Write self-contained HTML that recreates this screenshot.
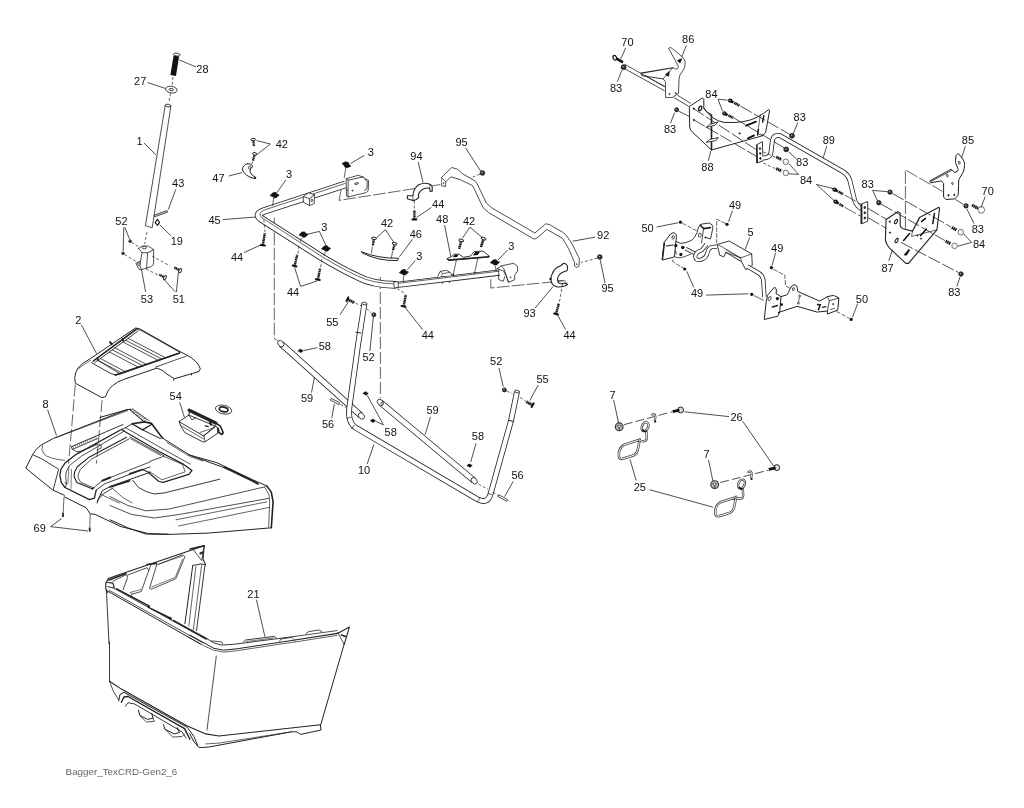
<!DOCTYPE html>
<html><head><meta charset="utf-8"><title>Bagger</title>
<style>
html,body{margin:0;padding:0;background:#fff;}
svg{display:block;}
text{will-change:transform;}
text{font-family:"Liberation Sans",sans-serif;fill:#111;}
</style></head><body>
<svg width="1024" height="808" viewBox="0 0 1024 808">
<rect width="1024" height="808" fill="#fff"/>
<line x1="176.3" y1="56" x2="173.2" y2="75.5" stroke="#111" stroke-width="5.6"/>
<ellipse cx="176.8" cy="54.6" rx="3.4" ry="1.4" transform="rotate(8 176.8 54.6)" fill="#fff" stroke="#222" stroke-width="0.8"/>
<line x1="173.0" y1="77.0" x2="172.0" y2="86.0" stroke="#222" stroke-width="0.7" stroke-dasharray="3 2"/>
<ellipse cx="171.3" cy="89.6" rx="5.8" ry="3.3" transform="rotate(8 171.3 89.6)" fill="#fff" stroke="#222" stroke-width="0.8"/>
<ellipse cx="171.3" cy="89.6" rx="2.2" ry="1.1" transform="rotate(8 171.3 89.6)" fill="#fff" stroke="#222" stroke-width="0.8"/>
<line x1="170.5" y1="93.0" x2="169.0" y2="102.0" stroke="#222" stroke-width="0.7" stroke-dasharray="3 2"/>
<path d="M165.2,105.6 L145.4,225.6 L152.2,227.8 L170.9,106.0 Z" fill="#fff" stroke="#222" stroke-width="0.8" stroke-linejoin="round" stroke-linecap="round"/>
<ellipse cx="168.0" cy="105.6" rx="2.9" ry="1.3" transform="rotate(8 168.0 105.6)" fill="#fff" stroke="#222" stroke-width="0.8"/>
<line x1="147.0" y1="232.0" x2="144.6" y2="244.0" stroke="#222" stroke-width="0.7" stroke-dasharray="3 2"/>
<text x="202.4" y="73.1" font-size="11" text-anchor="middle">28</text>
<line x1="179.5" y1="60.0" x2="196.0" y2="67.0" stroke="#222" stroke-width="0.8"/>
<text x="140.2" y="85.0" font-size="11" text-anchor="middle">27</text>
<line x1="147.5" y1="82.5" x2="165.5" y2="88.5" stroke="#222" stroke-width="0.8"/>
<text x="139.6" y="144.6" font-size="11" text-anchor="middle">1</text>
<line x1="144.0" y1="143.0" x2="155.8" y2="154.8" stroke="#222" stroke-width="0.8"/>
<text x="178.2" y="187.4" font-size="11" text-anchor="middle">43</text>
<line x1="175.8" y1="189.3" x2="168.3" y2="209.5" stroke="#222" stroke-width="0.8"/>
<path d="M154.5,215.0 L167.0,210.6 L167.6,212.2 L155.0,216.6 Z" fill="#ddd" stroke="#222" stroke-width="0.8" stroke-linejoin="round" stroke-linecap="round"/>
<path d="M157.4,219.4 L159.6,222.4 L157.4,225.4 L155.2,222.4 Z" fill="#fff" stroke="#111" stroke-width="1.1"/>
<text x="176.8" y="244.8" font-size="11" text-anchor="middle">19</text>
<line x1="159.6" y1="224.6" x2="171.3" y2="236.2" stroke="#222" stroke-width="0.8"/>
<text x="121.4" y="225.4" font-size="11" text-anchor="middle">52</text>
<line x1="124.8" y1="227.3" x2="129.7" y2="239.6" stroke="#222" stroke-width="0.8"/>
<line x1="123.8" y1="227.3" x2="123.2" y2="251.0" stroke="#222" stroke-width="0.8"/>
<circle cx="130.1" cy="241.2" r="1.3" fill="#333" stroke="#111" stroke-width="0.8"/>
<circle cx="129.7" cy="240.8" r="0.5" fill="#999"/>
<circle cx="123.0" cy="253.3" r="1.3" fill="#333" stroke="#111" stroke-width="0.8"/>
<circle cx="122.6" cy="252.9" r="0.5" fill="#999"/>
<line x1="131.5" y1="242.2" x2="139.0" y2="247.0" stroke="#222" stroke-width="0.7" stroke-dasharray="3 2"/>
<line x1="124.5" y1="254.5" x2="137.0" y2="262.0" stroke="#222" stroke-width="0.7" stroke-dasharray="3 2"/>
<path d="M138.6,248.5 L142.2,246.0 L148.2,246.0 L153.6,249.6 L153.6,264.5 L150.8,266.8 L141.6,269.6 L139.8,266.0 L142.0,252.6 L138.6,248.5 Z" fill="#fff" stroke="#222" stroke-width="0.8" stroke-linejoin="round" stroke-linecap="round"/>
<path d="M142.0,252.6 L147.6,252.8 L153.6,249.6" fill="none" stroke="#222" stroke-width="0.8" stroke-linejoin="round" stroke-linecap="round"/>
<path d="M147.6,252.8 L146.6,268.0" fill="none" stroke="#222" stroke-width="0.8" stroke-linejoin="round" stroke-linecap="round"/>
<ellipse cx="144.4" cy="247.6" rx="2.2" ry="1.2" transform="rotate(0 144.4 247.6)" fill="#fff" stroke="#222" stroke-width="0.8"/>
<path d="M140.5,261.0 L135.8,263.4 L139.5,269.8 L141.6,269.6" fill="none" stroke="#222" stroke-width="0.8" stroke-linejoin="round" stroke-linecap="round"/>
<ellipse cx="138.8" cy="264.0" rx="1.0" ry="1.6" transform="rotate(-20 138.8 264.0)" fill="#fff" stroke="#222" stroke-width="0.8"/>
<line x1="152.0" y1="256.0" x2="170.0" y2="266.0" stroke="#222" stroke-width="0.7" stroke-dasharray="3 2"/>
<line x1="146.0" y1="269.0" x2="158.0" y2="275.0" stroke="#222" stroke-width="0.7" stroke-dasharray="3 2"/>
<line x1="180.2" y1="270.6" x2="174.2" y2="267.4" stroke="#1a1a1a" stroke-width="2.4" stroke-dasharray="1.5 0.35"/>
<ellipse cx="180.2" cy="270.6" rx="2.3" ry="1.2" transform="rotate(-62 180.2 270.6)" fill="#fff" stroke="#111" stroke-width="0.9"/>
<line x1="165.0" y1="277.6" x2="159.2" y2="274.6" stroke="#1a1a1a" stroke-width="2.4" stroke-dasharray="1.5 0.35"/>
<ellipse cx="165.0" cy="277.6" rx="2.3" ry="1.2" transform="rotate(-63 165.0 277.6)" fill="#fff" stroke="#111" stroke-width="0.9"/>
<text x="146.9" y="302.6" font-size="11" text-anchor="middle">53</text>
<line x1="141.6" y1="270.0" x2="145.6" y2="292.0" stroke="#222" stroke-width="0.8"/>
<text x="178.8" y="302.6" font-size="11" text-anchor="middle">51</text>
<line x1="176.4" y1="292.0" x2="178.4" y2="272.5" stroke="#222" stroke-width="0.8"/>
<line x1="175.4" y1="292.0" x2="164.0" y2="279.5" stroke="#222" stroke-width="0.8"/>
<path d="M274.3,218.0 L274.3,338.5 L277.5,340.5" fill="none" stroke="#222" stroke-width="0.7" stroke-linejoin="round" stroke-linecap="round" stroke-dasharray="12 3"/>
<line x1="380.3" y1="277.0" x2="380.4" y2="398.0" stroke="#222" stroke-width="0.7" stroke-dasharray="12 3"/>
<path d="M341.0,190.5 L339.0,200.4 L440.0,184.6" fill="none" stroke="#222" stroke-width="0.7" stroke-linejoin="round" stroke-linecap="round" stroke-dasharray="12 3"/>
<path d="M490.8,279.5 L490.8,288.0 L563.0,280.9" fill="none" stroke="#222" stroke-width="0.7" stroke-linejoin="round" stroke-linecap="round" stroke-dasharray="12 3"/>
<path d="M345.5,184.4 L264,211.0 Q254.5,214.5 261.5,219 L322,257.5 Q345,271 358,276.8 Q372,284.4 396,284.9" fill="none" stroke="#222" stroke-width="7.6" stroke-linejoin="round" stroke-linecap="butt"/>
<path d="M345.5,184.4 L264,211.0 Q254.5,214.5 261.5,219 L322,257.5 Q345,271 358,276.8 Q372,284.4 396,284.9" fill="none" stroke="#fff" stroke-width="6.0" stroke-linejoin="round" stroke-linecap="square"/>
<path d="M345.2,183.4 L264.3,210.0 Q256.8,213.2 262.0,217.8" fill="none" stroke="#222" stroke-width="0.7" stroke-linejoin="round" stroke-linecap="round"/>
<path d="M262.0,217.8 L322.2,256.8 Q345,270.4 358.2,276.2 Q372,283.4 396,284.0" fill="none" stroke="#222" stroke-width="0.7" stroke-linejoin="round" stroke-linecap="round"/>
<path d="M396.0,285.0 L499.5,272.6" fill="none" stroke="#222" stroke-width="6.2" stroke-linejoin="round" stroke-linecap="butt"/>
<path d="M396.0,285.0 L499.5,272.6" fill="none" stroke="#fff" stroke-width="4.6" stroke-linejoin="round" stroke-linecap="square"/>
<line x1="396.0" y1="283.6" x2="499.0" y2="271.2" stroke="#222" stroke-width="0.7"/>
<path d="M394.2,282.0 L398.0,281.6 L398.4,287.4 L394.6,287.8 Z" fill="#fff" stroke="#222" stroke-width="0.8" stroke-linejoin="round" stroke-linecap="round"/>
<path d="M303.5,196.5 L308.5,192.8 L314.5,194.8 L314.2,203.6 L309.6,205.6 L303.8,202.6 Z" fill="#fff" stroke="#222" stroke-width="0.8" stroke-linejoin="round" stroke-linecap="round"/>
<path d="M303.5,196.5 L309.4,198.6 L314.5,194.8" fill="none" stroke="#222" stroke-width="0.8" stroke-linejoin="round" stroke-linecap="round"/>
<line x1="309.4" y1="198.6" x2="309.6" y2="205.6" stroke="#222" stroke-width="0.8"/>
<ellipse cx="311.8" cy="200.4" rx="0.9" ry="1.3" transform="rotate(0 311.8 200.4)" fill="#fff" stroke="#222" stroke-width="0.8"/>
<path d="M346.5,178.6 L358.5,175.2 L363.2,177.4 L368.6,180.6 L368.2,190.6 L366.0,192.6 L348.0,197.0 L346.8,196.2 Z" fill="#fff" stroke="#222" stroke-width="0.8" stroke-linejoin="round" stroke-linecap="round"/>
<path d="M346.5,178.6 L348.2,180.2 L348.0,197.0" fill="none" stroke="#222" stroke-width="0.8" stroke-linejoin="round" stroke-linecap="round"/>
<path d="M348.2,180.2 L363.4,176.8" fill="none" stroke="#222" stroke-width="0.8" stroke-linejoin="round" stroke-linecap="round"/>
<path d="M364.6,179.2 L367.2,181.2 L367.0,188.6 L364.4,190.4" fill="none" stroke="#222" stroke-width="0.8" stroke-linejoin="round" stroke-linecap="round"/>
<ellipse cx="356.5" cy="183.6" rx="2.0" ry="0.8" transform="rotate(-15 356.5 183.6)" fill="#fff" stroke="#222" stroke-width="0.8"/>
<ellipse cx="352.6" cy="190.6" rx="0.6" ry="0.6" transform="rotate(0 352.6 190.6)" fill="#fff" stroke="#222" stroke-width="0.8"/>
<line x1="348.0" y1="190.0" x2="346.2" y2="190.4" stroke="#222" stroke-width="0.8"/>
<path d="M437.7,276.2 L440.3,271.3 L446.6,270.3 L450.0,272.4 L452.0,275.2" fill="#fff" stroke="#222" stroke-width="0.8" stroke-linejoin="round" stroke-linecap="round"/>
<path d="M440.3,271.3 L442.6,273.6 L450.0,272.4" fill="none" stroke="#222" stroke-width="0.7" stroke-linejoin="round" stroke-linecap="round"/>
<path d="M442.6,273.6 L441.4,276.6" fill="none" stroke="#222" stroke-width="0.6" stroke-linejoin="round" stroke-linecap="round"/>
<line x1="442.5" y1="282.2" x2="442.5" y2="283.6" stroke="#222" stroke-width="1.2"/>
<line x1="449.5" y1="281.4" x2="449.5" y2="282.8" stroke="#222" stroke-width="1.2"/>
<path d="M497.2,268.7 L501.2,265.9 L513.6,263.3 L517.4,266.3 L517.6,271.1 L514.8,274.7 L514.6,279.7 L508.6,282.3 L506.2,276.5 L503.6,270.9 L497.2,268.7 Z" fill="#fff" stroke="#222" stroke-width="0.8" stroke-linejoin="round" stroke-linecap="round"/>
<path d="M501.2,265.9 L504.0,268.9 L508.6,282.3" fill="none" stroke="#222" stroke-width="0.8" stroke-linejoin="round" stroke-linecap="round"/>
<path d="M498.8,270.5 L498.6,279.5 L503.4,281.3 L504.6,276.9" fill="none" stroke="#222" stroke-width="0.8" stroke-linejoin="round" stroke-linecap="round"/>
<ellipse cx="510.6" cy="277.3" rx="0.5" ry="0.5" transform="rotate(0 510.6 277.3)" fill="#fff" stroke="#222" stroke-width="0.8"/>
<path d="M412.9,195.7 Q413.2,190.8 414.9,188.8 Q416.6,186.0 418.8,184.8 Q422.0,183.2 425.7,183.3 Q428.8,183.4 430.7,184.8 Q432.0,185.6 432.2,186.8 L432.2,191.2 L430.2,191.4 L429.7,188.3 Q426.6,187.6 423.8,188.8 Q420.8,190.2 419.3,192.7 Q418.4,194.2 418.3,195.7 L419.0,197.4 L415.8,199.7 L412.9,200.6 L407.4,198.7 L407.4,195.7 Z" fill="#fff" stroke="#222" stroke-width="1.1" stroke-linejoin="round" stroke-linecap="round"/>
<path d="M412.9,195.7 L412.9,200.6" fill="none" stroke="#222" stroke-width="0.7" stroke-linejoin="round" stroke-linecap="round"/>
<path d="M429.7,188.3 L430.0,184.6" fill="none" stroke="#222" stroke-width="0.6" stroke-linejoin="round" stroke-linecap="round"/>
<text x="416.4" y="160.0" font-size="11" text-anchor="middle">94</text>
<line x1="418.2" y1="162.0" x2="423.0" y2="182.4" stroke="#222" stroke-width="0.8"/>
<line x1="414.4" y1="200.5" x2="414.4" y2="209.0" stroke="#222" stroke-width="0.7" stroke-dasharray="3 2"/>
<line x1="414.4" y1="219.4" x2="414.4" y2="210.2" stroke="#1a1a1a" stroke-width="2.4" stroke-dasharray="1.5 0.35"/>
<line x1="412.4" y1="219.4" x2="416.4" y2="219.4" stroke="#111" stroke-width="2.0" stroke-linecap="round"/>
<text x="438.2" y="208.2" font-size="11" text-anchor="middle">44</text>
<line x1="431.5" y1="207.4" x2="416.4" y2="217.6" stroke="#222" stroke-width="0.8"/>
<path d="M563.7,263.3 L560.7,265.7 Q557.6,266.8 555.7,268.7 Q553.4,270.8 552.3,273.7 Q550.6,276.8 550.8,279.6 Q551.2,282.6 552.8,284.6 Q554.8,286.6 557.7,287.0 Q561.4,287.2 564.7,286.0 L567.6,284.6 L564.7,283.1 Q561.6,284.2 559.7,283.6 Q557.6,282.4 557.7,280.6 Q557.4,278.4 558.2,276.6 Q559.4,274.0 561.7,272.7 Q564.4,271.2 567.1,270.7 L567.6,266.2 L566.0,264.0 Z" fill="#fff" stroke="#222" stroke-width="1.1" stroke-linejoin="round" stroke-linecap="round"/>
<path d="M557.7,280.6 L564.6,280.4 L567.6,284.6" fill="none" stroke="#222" stroke-width="0.6" stroke-linejoin="round" stroke-linecap="round"/>
<circle cx="550.5" cy="279.0" r="1.2" fill="#111"/>
<text x="529.6" y="317.3" font-size="11" text-anchor="middle">93</text>
<line x1="535.2" y1="308.0" x2="553.0" y2="286.6" stroke="#222" stroke-width="0.8"/>
<line x1="562.6" y1="284.0" x2="559.4" y2="302.0" stroke="#222" stroke-width="0.7" stroke-dasharray="3 2"/>
<line x1="556.0" y1="314.0" x2="558.8" y2="303.6" stroke="#1a1a1a" stroke-width="2.4" stroke-dasharray="1.5 0.35"/>
<line x1="554.1" y1="313.5" x2="557.9" y2="314.5" stroke="#111" stroke-width="2.0" stroke-linecap="round"/>
<text x="569.5" y="338.6" font-size="11" text-anchor="middle">44</text>
<line x1="557.6" y1="315.0" x2="565.6" y2="329.6" stroke="#222" stroke-width="0.8"/>
<line x1="397.0" y1="288.6" x2="405.2" y2="293.6" stroke="#222" stroke-width="0.7" stroke-dasharray="3 2"/>
<line x1="403.6" y1="306.4" x2="405.8" y2="294.8" stroke="#1a1a1a" stroke-width="2.4" stroke-dasharray="1.5 0.35"/>
<line x1="401.6" y1="306.0" x2="405.6" y2="306.8" stroke="#111" stroke-width="2.0" stroke-linecap="round"/>
<text x="427.8" y="338.6" font-size="11" text-anchor="middle">44</text>
<line x1="405.0" y1="307.4" x2="422.6" y2="329.6" stroke="#222" stroke-width="0.8"/>
<line x1="263.8" y1="219.6" x2="265.0" y2="232.0" stroke="#222" stroke-width="0.7" stroke-dasharray="3 2"/>
<line x1="262.8" y1="245.2" x2="264.8" y2="233.3" stroke="#1a1a1a" stroke-width="2.4" stroke-dasharray="1.5 0.35"/>
<line x1="260.8" y1="244.9" x2="264.8" y2="245.5" stroke="#111" stroke-width="2.0" stroke-linecap="round"/>
<text x="237.0" y="260.6" font-size="11" text-anchor="middle">44</text>
<line x1="244.0" y1="252.6" x2="260.6" y2="245.0" stroke="#222" stroke-width="0.8"/>
<text x="214.5" y="224.4" font-size="11" text-anchor="middle">45</text>
<line x1="222.8" y1="219.6" x2="255.6" y2="217.0" stroke="#222" stroke-width="0.8"/>
<g transform="translate(274.7 195.2) rotate(0) scale(1)"><path d="M-4.6,0.4 L-1.8,-2.5 L1.2,-2.7 L1.8,-1.4 L4.5,-0.2 L1.6,2.5 L-0.8,2.7 L-1.6,1.6 Z" fill="#111" stroke="#111" stroke-width="0.7" stroke-linejoin="round"/></g>
<text x="289.1" y="178.3" font-size="11" text-anchor="middle">3</text>
<line x1="285.8" y1="180.0" x2="276.6" y2="193.0" stroke="#222" stroke-width="0.8"/>
<line x1="273.6" y1="198.0" x2="272.6" y2="206.0" stroke="#222" stroke-width="0.7"/>
<g transform="translate(346.5 164.8) rotate(20) scale(1)"><path d="M-4.6,0.4 L-1.8,-2.5 L1.2,-2.7 L1.8,-1.4 L4.5,-0.2 L1.6,2.5 L-0.8,2.7 L-1.6,1.6 Z" fill="#111" stroke="#111" stroke-width="0.7" stroke-linejoin="round"/></g>
<text x="370.7" y="155.7" font-size="11" text-anchor="middle">3</text>
<line x1="364.5" y1="155.2" x2="350.5" y2="163.6" stroke="#222" stroke-width="0.8"/>
<line x1="345.8" y1="168.0" x2="344.2" y2="178.0" stroke="#222" stroke-width="0.7"/>
<g transform="translate(303.6 234.6) rotate(0) scale(1)"><path d="M-4.6,0.4 L-1.8,-2.5 L1.2,-2.7 L1.8,-1.4 L4.5,-0.2 L1.6,2.5 L-0.8,2.7 L-1.6,1.6 Z" fill="#111" stroke="#111" stroke-width="0.7" stroke-linejoin="round"/></g>
<g transform="translate(326.1 248.5) rotate(0) scale(1)"><path d="M-4.6,0.4 L-1.8,-2.5 L1.2,-2.7 L1.8,-1.4 L4.5,-0.2 L1.6,2.5 L-0.8,2.7 L-1.6,1.6 Z" fill="#111" stroke="#111" stroke-width="0.7" stroke-linejoin="round"/></g>
<text x="324.2" y="231.0" font-size="11" text-anchor="middle">3</text>
<path d="M307.6,234.2 L319.4,231.4 L326.0,245.6" fill="none" stroke="#222" stroke-width="0.8" stroke-linejoin="round" stroke-linecap="round"/>
<line x1="301.4" y1="238.0" x2="300.4" y2="241.6" stroke="#222" stroke-width="0.7"/>
<line x1="325.0" y1="252.2" x2="324.4" y2="256.0" stroke="#222" stroke-width="0.7"/>
<line x1="294.6" y1="266.0" x2="297.2" y2="254.8" stroke="#1a1a1a" stroke-width="2.4" stroke-dasharray="1.5 0.35"/>
<line x1="292.7" y1="265.5" x2="296.5" y2="266.5" stroke="#111" stroke-width="2.0" stroke-linecap="round"/>
<line x1="317.8" y1="279.6" x2="320.2" y2="268.4" stroke="#1a1a1a" stroke-width="2.4" stroke-dasharray="1.5 0.35"/>
<line x1="315.8" y1="279.2" x2="319.8" y2="280.0" stroke="#111" stroke-width="2.0" stroke-linecap="round"/>
<line x1="298.0" y1="253.6" x2="298.8" y2="244.8" stroke="#222" stroke-width="0.7" stroke-dasharray="3 2"/>
<line x1="320.6" y1="267.2" x2="322.0" y2="258.6" stroke="#222" stroke-width="0.7" stroke-dasharray="3 2"/>
<text x="293.0" y="296.3" font-size="11" text-anchor="middle">44</text>
<line x1="294.6" y1="267.5" x2="300.6" y2="286.4" stroke="#222" stroke-width="0.8"/>
<line x1="300.6" y1="286.4" x2="317.0" y2="281.0" stroke="#222" stroke-width="0.8"/>
<g transform="translate(404.0 272.3) rotate(0) scale(1)"><path d="M-4.6,0.4 L-1.8,-2.5 L1.2,-2.7 L1.8,-1.4 L4.5,-0.2 L1.6,2.5 L-0.8,2.7 L-1.6,1.6 Z" fill="#111" stroke="#111" stroke-width="0.7" stroke-linejoin="round"/></g>
<text x="419.2" y="260.4" font-size="11" text-anchor="middle">3</text>
<line x1="415.4" y1="260.4" x2="407.4" y2="269.6" stroke="#222" stroke-width="0.8"/>
<line x1="403.6" y1="276.0" x2="403.4" y2="281.6" stroke="#222" stroke-width="0.7"/>
<g transform="translate(495.0 262.4) rotate(0) scale(1)"><path d="M-4.6,0.4 L-1.8,-2.5 L1.2,-2.7 L1.8,-1.4 L4.5,-0.2 L1.6,2.5 L-0.8,2.7 L-1.6,1.6 Z" fill="#111" stroke="#111" stroke-width="0.7" stroke-linejoin="round"/></g>
<text x="511.4" y="249.8" font-size="11" text-anchor="middle">3</text>
<line x1="507.6" y1="250.0" x2="497.8" y2="260.2" stroke="#222" stroke-width="0.8"/>
<line x1="495.2" y1="266.0" x2="496.2" y2="271.4" stroke="#222" stroke-width="0.7"/>
<text x="281.8" y="148.2" font-size="11" text-anchor="middle">42</text>
<line x1="270.4" y1="144.0" x2="256.6" y2="140.6" stroke="#222" stroke-width="0.8"/>
<line x1="270.4" y1="144.0" x2="257.2" y2="154.4" stroke="#222" stroke-width="0.8"/>
<line x1="253.2" y1="139.6" x2="254.0" y2="146.2" stroke="#1a1a1a" stroke-width="2.3" stroke-dasharray="1.5 0.35"/>
<ellipse cx="253.2" cy="139.6" rx="2.3" ry="1.2" transform="rotate(173 253.2 139.6)" fill="#fff" stroke="#111" stroke-width="0.9"/>
<line x1="254.8" y1="153.8" x2="253.0" y2="160.6" stroke="#1a1a1a" stroke-width="2.3" stroke-dasharray="1.5 0.35"/>
<ellipse cx="254.8" cy="153.8" rx="2.3" ry="1.2" transform="rotate(-165 254.8 153.8)" fill="#fff" stroke="#111" stroke-width="0.9"/>
<line x1="252.6" y1="161.6" x2="250.2" y2="169.0" stroke="#222" stroke-width="0.7" stroke-dasharray="3 2"/>
<path d="M247.6,163.6 Q242.2,165.4 242.4,169.8 Q244.6,176.2 254.6,178.6 L255.6,177.2 Q251.6,176.0 250.0,171.8 Q249.4,168.6 253.0,166.4 Q251.0,163.2 247.6,163.6 Z" fill="#fff" stroke="#222" stroke-width="1.0" stroke-linejoin="round" stroke-linecap="round"/>
<ellipse cx="249.8" cy="167.6" rx="1.2" ry="1.6" transform="rotate(20 249.8 167.6)" fill="#fff" stroke="#222" stroke-width="0.8"/>
<circle cx="255.2" cy="178.0" r="1.1" fill="#111"/>
<text x="218.4" y="182.2" font-size="11" text-anchor="middle">47</text>
<line x1="228.8" y1="176.0" x2="242.0" y2="172.6" stroke="#222" stroke-width="0.8"/>
<text x="387.0" y="227.4" font-size="11" text-anchor="middle">42</text>
<line x1="385.4" y1="229.6" x2="376.2" y2="238.2" stroke="#222" stroke-width="0.8"/>
<line x1="385.4" y1="229.6" x2="393.6" y2="242.0" stroke="#222" stroke-width="0.8"/>
<line x1="374.0" y1="238.4" x2="372.8" y2="245.8" stroke="#1a1a1a" stroke-width="2.3" stroke-dasharray="1.5 0.35"/>
<ellipse cx="374.0" cy="238.4" rx="2.5" ry="1.2" transform="rotate(-171 374.0 238.4)" fill="#fff" stroke="#111" stroke-width="0.9"/>
<line x1="394.6" y1="243.6" x2="393.0" y2="250.2" stroke="#1a1a1a" stroke-width="2.3" stroke-dasharray="1.5 0.35"/>
<ellipse cx="394.6" cy="243.6" rx="2.5" ry="1.2" transform="rotate(-166 394.6 243.6)" fill="#fff" stroke="#111" stroke-width="0.9"/>
<line x1="372.4" y1="246.5" x2="371.4" y2="253.4" stroke="#222" stroke-width="0.7"/>
<line x1="392.6" y1="251.0" x2="391.4" y2="258.0" stroke="#222" stroke-width="0.7"/>
<path d="M361.4,251.8 Q378,258.6 398.6,258.2 L397.6,260.6 Q377,261.0 362.6,253.0 Z" fill="#fff" stroke="#222" stroke-width="1.0" stroke-linejoin="round" stroke-linecap="round"/>
<text x="415.8" y="237.5" font-size="11" text-anchor="middle">46</text>
<line x1="412.4" y1="239.4" x2="399.4" y2="256.8" stroke="#222" stroke-width="0.8"/>
<text x="442.2" y="222.6" font-size="11" text-anchor="middle">48</text>
<line x1="444.6" y1="225.0" x2="450.8" y2="256.6" stroke="#222" stroke-width="0.8"/>
<text x="469.1" y="225.0" font-size="11" text-anchor="middle">42</text>
<line x1="470.0" y1="227.2" x2="462.4" y2="238.2" stroke="#222" stroke-width="0.8"/>
<line x1="470.0" y1="227.2" x2="481.6" y2="237.0" stroke="#222" stroke-width="0.8"/>
<line x1="461.3" y1="240.4" x2="459.1" y2="248.9" stroke="#1a1a1a" stroke-width="2.5" stroke-dasharray="1.5 0.35"/>
<ellipse cx="461.3" cy="240.4" rx="2.6" ry="1.2" transform="rotate(-165 461.3 240.4)" fill="#fff" stroke="#111" stroke-width="0.9"/>
<line x1="483.6" y1="238.6" x2="480.9" y2="247.1" stroke="#1a1a1a" stroke-width="2.5" stroke-dasharray="1.5 0.35"/>
<ellipse cx="483.6" cy="238.6" rx="2.6" ry="1.2" transform="rotate(-162 483.6 238.6)" fill="#fff" stroke="#111" stroke-width="0.9"/>
<path d="M447.0,258.7 L451.0,256.9 L454.2,254.2 L459.1,254.2 L463.5,257.3 L470.6,256.0 L474.2,251.5 L483.1,251.1 L489.4,256.2 L489.0,257.0 L449.3,260.5 Z" fill="#fff" stroke="#222" stroke-width="0.9" stroke-linejoin="round" stroke-linecap="round"/>
<line x1="448.0" y1="259.9" x2="489.2" y2="256.8" stroke="#222" stroke-width="1.5"/>
<path d="M452.6,257.2 L455.0,254.6 L458.6,254.8 L457.0,256.9 Z M473.0,255.4 L475.2,252.0 L480.2,251.8 L477.6,254.9 Z" fill="#111"/>
<line x1="456.4" y1="260.0" x2="453.3" y2="274.4" stroke="#222" stroke-width="0.7"/>
<line x1="477.8" y1="258.2" x2="474.7" y2="272.6" stroke="#222" stroke-width="0.7"/>
<circle cx="453.2" cy="274.6" r="0.9" fill="#111"/><circle cx="474.8" cy="272.8" r="0.9" fill="#111"/>
<path d="M441.4,177.6 L451.7,167.5 L457.6,169.2 L461.6,173.2 L475.4,181.2 L477.2,183.8 L486.3,203.0 L492.0,208.0 L534.9,233.0 L545.7,223.8 L549.6,224.6 L562.6,232.2 L566.5,235.6 L571.6,243.0 L579.4,258.6 L579.0,266.2 L576.6,267.4 L574.4,266.0 L574.6,262.6 L568.6,248.6 L562.6,238.4 L546.9,229.4 L536.0,238.8 L533.4,238.8 L488.6,212.6 L483.2,207.8 L472.6,185.6 L459.6,179.4 L450.8,176.8 L445.8,181.8 L445.6,186.6 L441.6,185.6 Z" fill="#fff" stroke="#222" stroke-width="0.8" stroke-linejoin="round" stroke-linecap="round"/>
<path d="M445.8,181.8 L441.4,177.6" fill="none" stroke="#222" stroke-width="0.7" stroke-linejoin="round" stroke-linecap="round"/>
<ellipse cx="576.8" cy="264.2" rx="0.5" ry="0.5" transform="rotate(0 576.8 264.2)" fill="#fff" stroke="#222" stroke-width="0.8"/>
<ellipse cx="443.6" cy="183.2" rx="0.5" ry="0.5" transform="rotate(0 443.6 183.2)" fill="#fff" stroke="#222" stroke-width="0.8"/>
<text x="461.6" y="145.8" font-size="11" text-anchor="middle">95</text>
<line x1="465.5" y1="147.7" x2="480.6" y2="171.0" stroke="#222" stroke-width="0.8"/>
<circle cx="482.4" cy="173.0" r="2.3" fill="#333" stroke="#111" stroke-width="0.8"/>
<circle cx="482.0" cy="172.6" r="0.8" fill="#999"/>
<line x1="480.0" y1="174.2" x2="470.5" y2="178.0" stroke="#222" stroke-width="0.7" stroke-dasharray="3 2"/>
<text x="603.2" y="238.9" font-size="11" text-anchor="middle">92</text>
<line x1="572.5" y1="241.2" x2="595.2" y2="237.2" stroke="#222" stroke-width="0.8"/>
<circle cx="599.8" cy="257.0" r="2.3" fill="#333" stroke="#111" stroke-width="0.8"/>
<circle cx="599.4" cy="256.6" r="0.8" fill="#999"/>
<line x1="597.4" y1="258.0" x2="581.0" y2="262.6" stroke="#222" stroke-width="0.7" stroke-dasharray="3 2"/>
<text x="607.6" y="292.4" font-size="11" text-anchor="middle">95</text>
<line x1="600.2" y1="259.6" x2="605.0" y2="283.0" stroke="#222" stroke-width="0.8"/>
<path d="M280.8,343.6 L361.0,415.6" fill="none" stroke="#222" stroke-width="6.4" stroke-linejoin="round" stroke-linecap="butt"/>
<path d="M280.8,343.6 L361.0,415.6" fill="none" stroke="#fff" stroke-width="4.800000000000001" stroke-linejoin="round" stroke-linecap="square"/>
<ellipse cx="280.8" cy="343.6" rx="2.6" ry="3.6" transform="rotate(-40 280.8 343.6)" fill="#fff" stroke="#222" stroke-width="0.8"/>
<ellipse cx="361.4" cy="416.0" rx="2.6" ry="3.6" transform="rotate(-40 361.4 416.0)" fill="#fff" stroke="#222" stroke-width="0.8"/>
<path d="M364.4,303.6 L358.0,345 L349.3,408 Q347.6,422.0 355.5,427.6 L477,499.0 Q487.2,504.6 490.4,494.6 L511,420.8 L517.0,391.6" fill="none" stroke="#222" stroke-width="5.8" stroke-linejoin="round" stroke-linecap="butt"/>
<path d="M364.4,303.6 L358.0,345 L349.3,408 Q347.6,422.0 355.5,427.6 L477,499.0 Q487.2,504.6 490.4,494.6 L511,420.8 L517.0,391.6" fill="none" stroke="#fff" stroke-width="4.199999999999999" stroke-linejoin="round" stroke-linecap="square"/>
<ellipse cx="364.4" cy="303.5" rx="2.6" ry="1.2" transform="rotate(8 364.4 303.5)" fill="#fff" stroke="#222" stroke-width="0.8"/>
<ellipse cx="517.0" cy="391.5" rx="2.6" ry="1.2" transform="rotate(12 517.0 391.5)" fill="#fff" stroke="#222" stroke-width="0.8"/>
<line x1="355.6" y1="332.2" x2="361.0" y2="333.0" stroke="#222" stroke-width="1.0"/>
<line x1="508.4" y1="420.2" x2="513.6" y2="421.6" stroke="#222" stroke-width="1.0"/>
<line x1="346.6" y1="418.5" x2="351.6" y2="417.0" stroke="#222" stroke-width="0.7"/>
<line x1="351.5" y1="429.0" x2="354.4" y2="425.0" stroke="#222" stroke-width="0.7"/>
<line x1="477.5" y1="501.8" x2="480.0" y2="497.6" stroke="#222" stroke-width="0.7"/>
<line x1="487.6" y1="493.4" x2="492.4" y2="494.8" stroke="#222" stroke-width="0.7"/>
<path d="M380.3,402.4 L474.0,480.6" fill="none" stroke="#222" stroke-width="6.4" stroke-linejoin="round" stroke-linecap="butt"/>
<path d="M380.3,402.4 L474.0,480.6" fill="none" stroke="#fff" stroke-width="4.800000000000001" stroke-linejoin="round" stroke-linecap="square"/>
<ellipse cx="380.3" cy="402.4" rx="2.6" ry="3.6" transform="rotate(-40 380.3 402.4)" fill="#fff" stroke="#222" stroke-width="0.8"/>
<ellipse cx="474.2" cy="480.8" rx="2.6" ry="3.6" transform="rotate(-40 474.2 480.8)" fill="#fff" stroke="#222" stroke-width="0.8"/>
<circle cx="381.6" cy="403.4" r="0.9" fill="none" stroke="#111" stroke-width="0.6"/>
<line x1="347.4" y1="299.2" x2="354.4" y2="302.8" stroke="#1a1a1a" stroke-width="2.8" stroke-dasharray="1.5 0.35"/>
<line x1="348.3" y1="297.4" x2="346.5" y2="301.0" stroke="#111" stroke-width="2.0" stroke-linecap="round"/>
<line x1="355.5" y1="303.2" x2="361.6" y2="306.0" stroke="#222" stroke-width="0.7" stroke-dasharray="3 2"/>
<line x1="366.6" y1="308.6" x2="371.6" y2="313.0" stroke="#222" stroke-width="0.7" stroke-dasharray="3 2"/>
<circle cx="373.9" cy="314.8" r="2.0" fill="#333" stroke="#111" stroke-width="0.8"/>
<circle cx="373.5" cy="314.4" r="0.7" fill="#999"/>
<text x="332.3" y="326.0" font-size="11" text-anchor="middle">55</text>
<line x1="340.0" y1="314.8" x2="348.4" y2="301.8" stroke="#222" stroke-width="0.8"/>
<text x="368.5" y="361.0" font-size="11" text-anchor="middle">52</text>
<line x1="373.3" y1="317.2" x2="369.9" y2="351.0" stroke="#222" stroke-width="0.8"/>
<text x="324.8" y="350.0" font-size="11" text-anchor="middle">58</text>
<line x1="303.6" y1="350.6" x2="317.4" y2="347.6" stroke="#222" stroke-width="0.8"/>
<g transform="translate(300.6 350.8) rotate(0) scale(0.6)"><path d="M-4.6,0.4 L-1.8,-2.5 L1.2,-2.7 L1.8,-1.4 L4.5,-0.2 L1.6,2.5 L-0.8,2.7 L-1.6,1.6 Z" fill="#111" stroke="#111" stroke-width="0.7" stroke-linejoin="round"/></g>
<text x="307.0" y="402.3" font-size="11" text-anchor="middle">59</text>
<line x1="314.5" y1="377.1" x2="311.5" y2="392.6" stroke="#222" stroke-width="0.8"/>
<text x="328.0" y="428.3" font-size="11" text-anchor="middle">56</text>
<line x1="334.3" y1="403.9" x2="331.7" y2="418.4" stroke="#222" stroke-width="0.8"/>
<path d="M331.4,398.6 L339.6,402.6 L339.0,404.6 L330.8,400.4 Z" fill="#fff" stroke="#222" stroke-width="0.8" stroke-linejoin="round" stroke-linecap="round"/>
<line x1="340.5" y1="404.5" x2="346.0" y2="407.5" stroke="#222" stroke-width="0.7" stroke-dasharray="3 2"/>
<g transform="translate(365.6 393.4) rotate(0) scale(0.6)"><path d="M-4.6,0.4 L-1.8,-2.5 L1.2,-2.7 L1.8,-1.4 L4.5,-0.2 L1.6,2.5 L-0.8,2.7 L-1.6,1.6 Z" fill="#111" stroke="#111" stroke-width="0.7" stroke-linejoin="round"/></g>
<g transform="translate(373.0 420.8) rotate(0) scale(0.6)"><path d="M-4.6,0.4 L-1.8,-2.5 L1.2,-2.7 L1.8,-1.4 L4.5,-0.2 L1.6,2.5 L-0.8,2.7 L-1.6,1.6 Z" fill="#111" stroke="#111" stroke-width="0.7" stroke-linejoin="round"/></g>
<text x="390.7" y="436.2" font-size="11" text-anchor="middle">58</text>
<path d="M367.4,395.6 L383.4,424.8 L376.4,421.6" fill="none" stroke="#222" stroke-width="0.8" stroke-linejoin="round" stroke-linecap="round"/>
<text x="432.6" y="414.0" font-size="11" text-anchor="middle">59</text>
<line x1="430.4" y1="417.0" x2="425.2" y2="434.6" stroke="#222" stroke-width="0.8"/>
<text x="364.0" y="473.8" font-size="11" text-anchor="middle">10</text>
<line x1="373.8" y1="444.7" x2="367.2" y2="464.0" stroke="#222" stroke-width="0.8"/>
<text x="496.2" y="364.9" font-size="11" text-anchor="middle">52</text>
<line x1="499.0" y1="368.0" x2="503.2" y2="386.6" stroke="#222" stroke-width="0.8"/>
<circle cx="504.4" cy="389.9" r="2.0" fill="#333" stroke="#111" stroke-width="0.8"/>
<circle cx="504.0" cy="389.5" r="0.7" fill="#999"/>
<line x1="506.8" y1="391.2" x2="512.4" y2="393.6" stroke="#222" stroke-width="0.7" stroke-dasharray="3 2"/>
<line x1="520.2" y1="397.4" x2="526.4" y2="401.6" stroke="#222" stroke-width="0.7" stroke-dasharray="3 2"/>
<line x1="532.6" y1="405.2" x2="526.4" y2="401.8" stroke="#1a1a1a" stroke-width="2.8" stroke-dasharray="1.5 0.35"/>
<line x1="531.6" y1="407.0" x2="533.6" y2="403.4" stroke="#111" stroke-width="2.0" stroke-linecap="round"/>
<text x="542.6" y="383.0" font-size="11" text-anchor="middle">55</text>
<line x1="538.2" y1="385.0" x2="529.8" y2="400.6" stroke="#222" stroke-width="0.8"/>
<text x="477.9" y="440.0" font-size="11" text-anchor="middle">58</text>
<line x1="476.1" y1="443.2" x2="470.7" y2="462.0" stroke="#222" stroke-width="0.8"/>
<g transform="translate(469.6 465.6) rotate(0) scale(0.6)"><path d="M-4.6,0.4 L-1.8,-2.5 L1.2,-2.7 L1.8,-1.4 L4.5,-0.2 L1.6,2.5 L-0.8,2.7 L-1.6,1.6 Z" fill="#111" stroke="#111" stroke-width="0.7" stroke-linejoin="round"/></g>
<text x="517.5" y="479.2" font-size="11" text-anchor="middle">56</text>
<line x1="513.2" y1="481.4" x2="504.6" y2="496.6" stroke="#222" stroke-width="0.8"/>
<path d="M499.2,495.0 L507.6,499.6 L506.8,501.4 L498.4,496.6 Z" fill="#fff" stroke="#222" stroke-width="0.8" stroke-linejoin="round" stroke-linecap="round"/>
<line x1="478.4" y1="484.0" x2="488.0" y2="489.4" stroke="#222" stroke-width="0.7" stroke-dasharray="3 2"/>
<line x1="492.6" y1="492.4" x2="498.6" y2="495.6" stroke="#222" stroke-width="0.7" stroke-dasharray="3 2"/>
<line x1="624.5" y1="64.1" x2="664.6" y2="86.8" stroke="#222" stroke-width="0.8"/>
<line x1="624.5" y1="68.6" x2="664.6" y2="90.8" stroke="#222" stroke-width="0.8"/>
<line x1="677.2" y1="95.0" x2="690.7" y2="103.4" stroke="#222" stroke-width="0.8"/>
<line x1="674.0" y1="97.6" x2="688.8" y2="106.4" stroke="#222" stroke-width="0.8"/>
<line x1="678.5" y1="111.1" x2="689.6" y2="116.6" stroke="#222" stroke-width="0.8"/>
<ellipse cx="614.8" cy="57.8" rx="1.6" ry="2.4" transform="rotate(-25 614.8 57.8)" fill="#fff" stroke="#111" stroke-width="1.2"/>
<line x1="616.6" y1="58.6" x2="623" y2="62.4" stroke="#111" stroke-width="2.4"/>
<circle cx="623.6" cy="67.2" r="2.4" fill="#333" stroke="#111" stroke-width="0.8"/>
<circle cx="623.2" cy="66.8" r="0.8" fill="#999"/>
<text x="627.4" y="46.2" font-size="11" text-anchor="middle">70</text>
<line x1="625.7" y1="48.0" x2="620.6" y2="59.0" stroke="#222" stroke-width="0.8"/>
<text x="616.0" y="91.6" font-size="11" text-anchor="middle">83</text>
<line x1="621.9" y1="70.0" x2="617.4" y2="81.6" stroke="#222" stroke-width="0.8"/>
<path d="M668.9,48.0 Q670.4,46.6 672.4,48.6 L682.4,57.0 Q685.4,59.6 685.2,63.2 Q685.4,67.6 682.4,71.4 Q679.0,75.0 679.0,79.0 L678.5,93.4 L672.1,97.6 L665.6,97.6 L665.4,81.5 L663.1,78.9 L672.7,67.7 L674.6,68.6 Q677.6,70.4 678.4,66.6 L677.2,64.1 Z" fill="#fff" stroke="#222" stroke-width="0.8" stroke-linejoin="round" stroke-linecap="round"/>
<path d="M641.2,73.1 L672.7,67.7" fill="none" stroke="#222" stroke-width="1.1" stroke-linejoin="round" stroke-linecap="round"/>
<path d="M641.2,73.1 L641.8,75.7 L663.1,78.9" fill="none" stroke="#222" stroke-width="0.9" stroke-linejoin="round" stroke-linecap="round"/>
<path d="M645.0,75.6 L665.4,86.6" fill="none" stroke="#222" stroke-width="0.7" stroke-linejoin="round" stroke-linecap="round"/>
<path d="M677.6,60.6 L681.6,58.8 L680.0,62.8 Z M665.6,74.6 L669.2,71.8 L668.6,76.2 Z" fill="#111" stroke="#111" stroke-width="0.9"/>
<ellipse cx="669.5" cy="94.0" rx="0.6" ry="0.6" transform="rotate(0 669.5 94.0)" fill="#111" stroke="#222" stroke-width="0.8"/>
<ellipse cx="675.9" cy="93.3" rx="0.6" ry="0.6" transform="rotate(0 675.9 93.3)" fill="#111" stroke="#222" stroke-width="0.8"/>
<text x="688.2" y="42.6" font-size="11" text-anchor="middle">86</text>
<line x1="686.5" y1="45.2" x2="681.7" y2="57.0" stroke="#222" stroke-width="0.8"/>
<circle cx="676.6" cy="109.8" r="2.0" fill="#333" stroke="#111" stroke-width="0.8"/>
<circle cx="676.2" cy="109.4" r="0.7" fill="#999"/>
<text x="670.0" y="132.5" font-size="11" text-anchor="middle">83</text>
<line x1="674.6" y1="112.6" x2="670.5" y2="123.0" stroke="#222" stroke-width="0.8"/>
<line x1="692.9" y1="108.2" x2="757.5" y2="150.5" stroke="#222" stroke-width="0.8" stroke-dasharray="13 2.5"/>
<line x1="693.5" y1="119.7" x2="757.6" y2="157.0" stroke="#222" stroke-width="0.8" stroke-dasharray="13 2.5"/>
<line x1="740.5" y1="106.0" x2="790.0" y2="134.6" stroke="#222" stroke-width="0.8" stroke-dasharray="13 2.5"/>
<line x1="734.0" y1="118.0" x2="784.5" y2="148.0" stroke="#222" stroke-width="0.8" stroke-dasharray="13 2.5"/>
<path d="M689.7,106.2 L702.5,97.9 L703.8,99.2 L703.8,108.0 Q705.0,112.0 711.5,114.6 L711.5,150 L692.9,132.6 Q689.7,130.0 689.7,127.5 Z" fill="none" stroke="#222" stroke-width="1.0" stroke-linejoin="round" stroke-linecap="round"/>
<line x1="711.5" y1="114.6" x2="711.5" y2="150.0" stroke="#222" stroke-width="1.6"/>
<path d="M703.8,108.0 Q712,120.5 724,122.4 Q745,123.6 757.2,117.2 Q764,113.6 768.8,109.5 L769.6,110.8 L765.6,132.6 L762.4,135.8 L711.5,150" fill="none" stroke="#222" stroke-width="1.0" stroke-linejoin="round" stroke-linecap="round"/>
<path d="M762.4,135.8 L757.6,133.4 L760.4,114.8" fill="none" stroke="#222" stroke-width="0.7" stroke-linejoin="round" stroke-linecap="round"/>
<path d="M706.4,127.4 L709.4,124.4 L718.0,122.0 L715.0,125.2 L706.4,127.4 Z" fill="#fff" stroke="#222" stroke-width="0.9" stroke-linejoin="round" stroke-linecap="round"/>
<path d="M706.6,142.2 L709.6,139.4 L718.4,137.6 L715.6,140.8 L706.6,142.2 Z" fill="#fff" stroke="#222" stroke-width="0.9" stroke-linejoin="round" stroke-linecap="round"/>
<ellipse cx="693.8" cy="108.6" rx="0.7" ry="0.7" transform="rotate(0 693.8 108.6)" fill="#111" stroke="#222" stroke-width="0.8"/>
<ellipse cx="693.8" cy="120.0" rx="0.7" ry="0.7" transform="rotate(0 693.8 120.0)" fill="#111" stroke="#222" stroke-width="0.8"/>
<ellipse cx="700.2" cy="108.4" rx="1.4" ry="2.4" transform="rotate(20 700.2 108.4)" fill="#fff" stroke="#111" stroke-width="1.3"/>
<line x1="746" y1="125.6" x2="756" y2="121.6" stroke="#111" stroke-width="1.8" stroke-linecap="round"/>
<line x1="748" y1="138.4" x2="754" y2="135.4" stroke="#111" stroke-width="1.8" stroke-linecap="round"/>
<line x1="763.8" y1="115.6" x2="762.6" y2="122.0" stroke="#111" stroke-width="1.4" stroke-linecap="round"/>
<line x1="758.4" y1="129.4" x2="757.6" y2="135.0" stroke="#111" stroke-width="1.4" stroke-linecap="round"/>
<ellipse cx="739.6" cy="133.4" rx="0.7" ry="0.7" transform="rotate(0 739.6 133.4)" fill="#111" stroke="#222" stroke-width="0.8"/>
<line x1="730.2" y1="100.6" x2="739.8" y2="105.8" stroke="#111" stroke-width="2.6" stroke-dasharray="3.6 0.9 1.2 0.4 1.2 0.4 1.2 0.4 1.2 0.4"/>
<circle cx="730.2" cy="100.6" r="2.2" fill="#111"/>
<circle cx="729.9000000000001" cy="100.39999999999999" r="0.7" fill="#aaa"/>
<line x1="724.4" y1="113.4" x2="733.4" y2="118.0" stroke="#111" stroke-width="2.6" stroke-dasharray="3.6 0.9 1.2 0.4 1.2 0.4 1.2 0.4 1.2 0.4"/>
<circle cx="724.4" cy="113.4" r="2.2" fill="#111"/>
<circle cx="724.1" cy="113.2" r="0.7" fill="#aaa"/>
<text x="711.4" y="98.0" font-size="11" text-anchor="middle">84</text>
<line x1="718.0" y1="99.2" x2="727.6" y2="100.2" stroke="#222" stroke-width="0.8"/>
<line x1="718.0" y1="99.2" x2="722.5" y2="111.2" stroke="#222" stroke-width="0.8"/>
<text x="707.4" y="170.7" font-size="11" text-anchor="middle">88</text>
<line x1="710.9" y1="150.8" x2="708.3" y2="160.8" stroke="#222" stroke-width="0.8"/>
<circle cx="792.0" cy="135.8" r="2.4" fill="#333" stroke="#111" stroke-width="0.8"/>
<circle cx="791.6" cy="135.4" r="0.8" fill="#999"/>
<text x="799.7" y="120.6" font-size="11" text-anchor="middle">83</text>
<line x1="797.8" y1="122.4" x2="793.3" y2="133.6" stroke="#222" stroke-width="0.8"/>
<circle cx="786.2" cy="149.4" r="2.4" fill="#333" stroke="#111" stroke-width="0.8"/>
<circle cx="785.8" cy="149.0" r="0.8" fill="#999"/>
<text x="802.2" y="165.8" font-size="11" text-anchor="middle">83</text>
<line x1="788.8" y1="151.9" x2="796.5" y2="159.0" stroke="#222" stroke-width="0.8"/>
<path d="M756.6,144.8 L762.4,141.6 L763.0,160.9 L757.2,162.9 Z" fill="#fff" stroke="#222" stroke-width="0.9" stroke-linejoin="round" stroke-linecap="round"/>
<line x1="756.8" y1="144.8" x2="757.2" y2="162.9" stroke="#222" stroke-width="1.6"/>
<ellipse cx="760.0" cy="148.6" rx="0.7" ry="1.0" transform="rotate(0 760.0 148.6)" fill="#111" stroke="#222" stroke-width="0.8"/>
<ellipse cx="760.2" cy="153.4" rx="0.7" ry="1.0" transform="rotate(0 760.2 153.4)" fill="#111" stroke="#222" stroke-width="0.8"/>
<ellipse cx="760.4" cy="158.4" rx="0.7" ry="1.0" transform="rotate(0 760.4 158.4)" fill="#111" stroke="#222" stroke-width="0.8"/>
<path d="M763.6,158.0 Q770.4,157.6 770.9,152.6 L772.4,140.6 Q773.4,134.6 779.6,135.4 L843.0,171.6 Q848.4,175.0 850.0,181.0 L854.6,200.0 Q856.0,205.6 862.4,209.4" fill="none" stroke="#222" stroke-width="4.8" stroke-linejoin="round" stroke-linecap="butt"/>
<path d="M763.6,158.0 Q770.4,157.6 770.9,152.6 L772.4,140.6 Q773.4,134.6 779.6,135.4 L843.0,171.6 Q848.4,175.0 850.0,181.0 L854.6,200.0 Q856.0,205.6 862.4,209.4" fill="none" stroke="#fff" stroke-width="3.1999999999999997" stroke-linejoin="round" stroke-linecap="square"/>
<text x="828.8" y="144.2" font-size="11" text-anchor="middle">89</text>
<line x1="826.8" y1="146.0" x2="823.1" y2="158.2" stroke="#222" stroke-width="0.8"/>
<line x1="763.4" y1="152.0" x2="776.0" y2="157.4" stroke="#222" stroke-width="0.7" stroke-dasharray="3 2"/>
<line x1="763.4" y1="163.0" x2="776.0" y2="169.0" stroke="#222" stroke-width="0.7" stroke-dasharray="3 2"/>
<line x1="776.2" y1="157.0" x2="781.5" y2="159.6" stroke="#111" stroke-width="3.0" stroke-dasharray="1.5 0.4"/>
<circle cx="785.8" cy="161.8" r="2.8" fill="#f4f4f4" stroke="#555" stroke-width="0.8"/>
<line x1="776.2" y1="168.6" x2="781.5" y2="171.0" stroke="#111" stroke-width="3.0" stroke-dasharray="1.5 0.4"/>
<circle cx="785.8" cy="172.9" r="2.8" fill="#f4f4f4" stroke="#555" stroke-width="0.8"/>
<text x="806.0" y="183.6" font-size="11" text-anchor="middle">84</text>
<line x1="798.6" y1="174.4" x2="788.8" y2="163.5" stroke="#222" stroke-width="0.8"/>
<line x1="798.6" y1="174.4" x2="788.8" y2="173.8" stroke="#222" stroke-width="0.8"/>
<path d="M834.0,188.8 L816.4,184.4 L834.8,201.2" fill="none" stroke="#222" stroke-width="0.8" stroke-linejoin="round" stroke-linecap="round"/>
<line x1="834.6" y1="189.6" x2="843.2" y2="194.2" stroke="#111" stroke-width="2.6" stroke-dasharray="3.6 0.9 1.2 0.4 1.2 0.4 1.2 0.4 1.2 0.4"/>
<circle cx="834.6" cy="189.6" r="2.2" fill="#111"/>
<circle cx="834.3000000000001" cy="189.4" r="0.7" fill="#aaa"/>
<line x1="835.6" y1="201.6" x2="843.2" y2="206.4" stroke="#111" stroke-width="2.6" stroke-dasharray="3.6 0.9 1.2 0.4 1.2 0.4 1.2 0.4 1.2 0.4"/>
<circle cx="835.6" cy="201.6" r="2.2" fill="#111"/>
<circle cx="835.3000000000001" cy="201.4" r="0.7" fill="#aaa"/>
<line x1="844.5" y1="195.0" x2="861.5" y2="204.6" stroke="#222" stroke-width="0.7" stroke-dasharray="13 2.5"/>
<line x1="844.5" y1="207.2" x2="861.5" y2="216.6" stroke="#222" stroke-width="0.7" stroke-dasharray="13 2.5"/>
<path d="M861.5,204.0 L867.7,201.5 L867.7,221.3 L861.5,223.8 Z" fill="#fff" stroke="#222" stroke-width="0.9" stroke-linejoin="round" stroke-linecap="round"/>
<line x1="861.6" y1="204.0" x2="861.6" y2="223.8" stroke="#222" stroke-width="1.6"/>
<ellipse cx="864.8" cy="207.6" rx="0.8" ry="1.1" transform="rotate(0 864.8 207.6)" fill="#111" stroke="#222" stroke-width="0.8"/>
<ellipse cx="864.8" cy="212.8" rx="0.8" ry="1.1" transform="rotate(0 864.8 212.8)" fill="#111" stroke="#222" stroke-width="0.8"/>
<ellipse cx="864.8" cy="218.0" rx="0.8" ry="1.1" transform="rotate(0 864.8 218.0)" fill="#111" stroke="#222" stroke-width="0.8"/>
<text x="867.7" y="188.2" font-size="11" text-anchor="middle">83</text>
<path d="M887.0,191.6 L872.6,190.4 L877.2,200.2" fill="none" stroke="#222" stroke-width="0.8" stroke-linejoin="round" stroke-linecap="round"/>
<circle cx="890.0" cy="192.1" r="2.2" fill="#333" stroke="#111" stroke-width="0.8"/>
<circle cx="889.6" cy="191.7" r="0.8" fill="#999"/>
<circle cx="878.8" cy="202.7" r="2.2" fill="#333" stroke="#111" stroke-width="0.8"/>
<circle cx="878.4" cy="202.3" r="0.8" fill="#999"/>
<line x1="892.4" y1="193.4" x2="951.0" y2="227.0" stroke="#222" stroke-width="0.8" stroke-dasharray="13 2.5"/>
<line x1="881.0" y1="204.0" x2="945.0" y2="240.6" stroke="#222" stroke-width="0.8" stroke-dasharray="13 2.5"/>
<line x1="868.0" y1="208.4" x2="886.5" y2="219.4" stroke="#222" stroke-width="0.8" stroke-dasharray="13 2.5"/>
<line x1="868.0" y1="217.6" x2="886.5" y2="228.4" stroke="#222" stroke-width="0.8" stroke-dasharray="13 2.5"/>
<line x1="901.0" y1="242.4" x2="958.6" y2="272.6" stroke="#222" stroke-width="0.8" stroke-dasharray="13 2.5"/>
<path d="M905.4,228.5 L905.4,169.9 L942.1,191.2" fill="none" stroke="#222" stroke-width="0.7" stroke-linejoin="round" stroke-linecap="round" stroke-dasharray="12 3"/>
<path d="M886.1,219.5 L897.7,211.8 L900.2,213.1 L900.2,225.0 Q900.4,228.2 904.7,229.3 L912.5,231.1 L919.5,217.6 L938.9,207.3 L939.6,208.4 L936.9,229.8 L908.5,263.4 L905.8,263.4 L889.3,247.8 Q885.8,243.6 885.4,240.1 Z" fill="none" stroke="#222" stroke-width="1.1" stroke-linejoin="round" stroke-linecap="round"/>
<path d="M912.5,231.1 L911.6,236.4 L936.9,229.8" fill="none" stroke="#222" stroke-width="0.7" stroke-linejoin="round" stroke-linecap="round"/>
<path d="M919.5,217.6 L918.0,222.0 L912.5,231.1" fill="none" stroke="#222" stroke-width="0.6" stroke-linejoin="round" stroke-linecap="round"/>
<ellipse cx="896.0" cy="221.6" rx="1.2" ry="2.4" transform="rotate(30 896 221.6)" fill="#fff" stroke="#111" stroke-width="1.0"/>
<ellipse cx="896.6" cy="240.6" rx="1.2" ry="2.4" transform="rotate(30 896.6 240.6)" fill="#fff" stroke="#111" stroke-width="1.0"/>
<ellipse cx="889.8" cy="221.6" rx="0.7" ry="0.7" transform="rotate(0 889.8 221.6)" fill="#111" stroke="#222" stroke-width="0.8"/>
<ellipse cx="890.0" cy="232.6" rx="0.7" ry="0.7" transform="rotate(0 890.0 232.6)" fill="#111" stroke="#222" stroke-width="0.8"/>
<path d="M903.6,240.4 L909.6,233.6 M905.0,254.6 L909.4,249.6 L906.4,254.8 Z M920.6,235.6 L926.4,229.0 M932.8,223.6 L934.4,213.6 M921.6,221.6 L925.4,218.4" stroke="#111" stroke-width="1.5" stroke-linecap="round" fill="none"/>
<ellipse cx="917.4" cy="235.6" rx="0.6" ry="0.6" transform="rotate(0 917.4 235.6)" fill="#111" stroke="#222" stroke-width="0.8"/>
<ellipse cx="921.0" cy="238.6" rx="0.6" ry="0.6" transform="rotate(0 921.0 238.6)" fill="#111" stroke="#222" stroke-width="0.8"/>
<text x="887.5" y="271.6" font-size="11" text-anchor="middle">87</text>
<line x1="888.8" y1="260.8" x2="892.4" y2="249.8" stroke="#222" stroke-width="0.8"/>
<path d="M956.2,155.1 Q957.4,153.4 958.8,153.9 L962.7,159.0 Q964.6,161.6 964.6,164.2 Q964.6,168.4 963.3,171.9 L958.8,179.6 L958.2,195.0 L954.9,198.9 L945.9,199.5 L943.6,197.0 L943.6,183.5 L941.4,180.9 L930.5,182.8 L929.8,180.9 L951.1,169.3 L954.9,172.5 Q958.4,171.6 958.2,169.3 L955.6,162.9 Z" fill="#fff" stroke="#222" stroke-width="1.0" stroke-linejoin="round" stroke-linecap="round"/>
<path d="M931.0,181.4 L951.4,170.6" fill="none" stroke="#222" stroke-width="0.8" stroke-linejoin="round" stroke-linecap="round"/>
<ellipse cx="959.2" cy="162.6" rx="0.9" ry="1.5" transform="rotate(-15 959.2 162.6)" fill="#fff" stroke="#222" stroke-width="0.8"/>
<ellipse cx="947.2" cy="175.5" rx="0.8" ry="1.4" transform="rotate(-15 947.2 175.5)" fill="#fff" stroke="#222" stroke-width="0.8"/>
<ellipse cx="952.4" cy="183.5" rx="0.7" ry="1.1" transform="rotate(-15 952.4 183.5)" fill="#fff" stroke="#222" stroke-width="0.8"/>
<ellipse cx="948.5" cy="195.3" rx="0.7" ry="0.7" transform="rotate(0 948.5 195.3)" fill="#111" stroke="#222" stroke-width="0.8"/>
<ellipse cx="954.3" cy="194.8" rx="0.7" ry="0.7" transform="rotate(0 954.3 194.8)" fill="#111" stroke="#222" stroke-width="0.8"/>
<text x="967.9" y="144.3" font-size="11" text-anchor="middle">85</text>
<line x1="965.4" y1="146.0" x2="961.6" y2="158.0" stroke="#222" stroke-width="0.8"/>
<line x1="955.5" y1="199.5" x2="963.5" y2="204.5" stroke="#222" stroke-width="0.8"/>
<circle cx="966.0" cy="205.9" r="2.2" fill="#333" stroke="#111" stroke-width="0.8"/>
<circle cx="965.6" cy="205.5" r="0.8" fill="#999"/>
<line x1="972.0" y1="205.0" x2="978.0" y2="208.4" stroke="#111" stroke-width="3.0" stroke-dasharray="1.5 0.4"/>
<path d="M979.6,206.6 L983.4,207.0 L984.8,210.2 L982.8,213.2 L979.2,212.8 L978.0,209.6 Z" fill="#fff" stroke="#555" stroke-width="0.8"/>
<text x="987.7" y="194.8" font-size="11" text-anchor="middle">70</text>
<line x1="985.2" y1="196.6" x2="981.0" y2="207.6" stroke="#222" stroke-width="0.8"/>
<text x="977.8" y="233.2" font-size="11" text-anchor="middle">83</text>
<line x1="966.8" y1="208.8" x2="974.0" y2="223.6" stroke="#222" stroke-width="0.8"/>
<line x1="951.8" y1="227.5" x2="956.8" y2="230.1" stroke="#111" stroke-width="3.0" stroke-dasharray="1.5 0.4"/>
<circle cx="960.8" cy="232.2" r="2.8" fill="#f4f4f4" stroke="#555" stroke-width="0.8"/>
<line x1="945.6" y1="241.1" x2="950.6" y2="243.7" stroke="#111" stroke-width="3.0" stroke-dasharray="1.5 0.4"/>
<circle cx="954.6" cy="245.8" r="2.8" fill="#f4f4f4" stroke="#555" stroke-width="0.8"/>
<text x="979.0" y="247.6" font-size="11" text-anchor="middle">84</text>
<line x1="971.6" y1="242.4" x2="963.5" y2="233.6" stroke="#222" stroke-width="0.8"/>
<line x1="971.6" y1="242.4" x2="957.8" y2="246.2" stroke="#222" stroke-width="0.8"/>
<circle cx="961.0" cy="274.0" r="2.2" fill="#333" stroke="#111" stroke-width="0.8"/>
<circle cx="960.6" cy="273.6" r="0.8" fill="#999"/>
<text x="954.3" y="295.8" font-size="11" text-anchor="middle">83</text>
<line x1="960.0" y1="277.0" x2="956.8" y2="286.6" stroke="#222" stroke-width="0.8"/>
<path d="M662.2,259.7 L664.2,242.3 L670.6,234.0 Q673.2,231.6 675.2,233.4 Q677.2,235.4 675.9,241.7 L674.5,256.5 Z" fill="#fff" stroke="#222" stroke-width="1.0" stroke-linejoin="round" stroke-linecap="round"/>
<line x1="662.4" y1="259.4" x2="664.4" y2="242.6" stroke="#222" stroke-width="1.5"/>
<ellipse cx="673.2" cy="237.4" rx="1.1" ry="1.9" transform="rotate(15 673.2 237.4)" fill="#fff" stroke="#222" stroke-width="0.8"/>
<path d="M675.9,241.7 Q680.6,244.6 686.0,242.6 Q692.6,240.8 694.4,237.6 L697.0,232.7 Q697.6,227.4 700.2,225.0 L702.0,224.0 L709.2,223.0 Q713.0,224.4 713.0,227.4 L710.5,239.0 L705.4,237.4" fill="none" stroke="#222" stroke-width="0.9" stroke-linejoin="round" stroke-linecap="round"/>
<path d="M700.2,225.0 L703.6,228.6 L710.4,227.6" fill="none" stroke="#222" stroke-width="1.6" stroke-linejoin="round" stroke-linecap="round"/>
<path d="M703.6,228.6 L701.6,243.0" fill="none" stroke="#222" stroke-width="0.8" stroke-linejoin="round" stroke-linecap="round"/>
<ellipse cx="699.8" cy="235.2" rx="1.4" ry="2.0" transform="rotate(10 699.8 235.2)" fill="#fff" stroke="#222" stroke-width="0.8"/>
<circle cx="705.4" cy="237.4" r="0.9" fill="#111"/>
<path d="M674.5,256.5 Q678,259.0 684.6,256.6 L690.6,254.2" fill="none" stroke="#222" stroke-width="0.8" stroke-linejoin="round" stroke-linecap="round"/>
<circle cx="675.8" cy="245.6" r="1.7" fill="#111"/>
<circle cx="682.8" cy="247.5" r="1.7" fill="#111"/>
<circle cx="680.9" cy="254.4" r="1.6" fill="#111"/>
<path d="M666.4,246.0 L673.0,245.0" fill="none" stroke="#222" stroke-width="1.2" stroke-linejoin="round" stroke-linecap="round"/>
<path d="M675.4,251.0 L676.4,254.0" fill="none" stroke="#222" stroke-width="0.9" stroke-linejoin="round" stroke-linecap="round"/>
<path d="M685.6,248.6 L696.2,254.2" fill="none" stroke="#222" stroke-width="3.6" stroke-linejoin="round" stroke-linecap="butt"/>
<path d="M685.6,248.6 L696.2,254.2" fill="none" stroke="#fff" stroke-width="2.0" stroke-linejoin="round" stroke-linecap="square"/>
<path d="M716.8,246.6 L712.0,247.0 Q708.4,248.0 707.6,252.4 Q706.6,257.6 701.6,259.4 Q695.6,261.4 695.2,256.6 Q695.6,252.0 702.0,250.0 L706.4,244.4" fill="none" stroke="#222" stroke-width="4.2" stroke-linejoin="round" stroke-linecap="butt"/>
<path d="M716.8,246.6 L712.0,247.0 Q708.4,248.0 707.6,252.4 Q706.6,257.6 701.6,259.4 Q695.6,261.4 695.2,256.6 Q695.6,252.0 702.0,250.0 L706.4,244.4" fill="none" stroke="#fff" stroke-width="2.6" stroke-linejoin="round" stroke-linecap="square"/>
<path d="M717.6,244.3 L729.2,241.0 L751.7,253.9 L752.3,265.5 L745.9,269.8 L741.4,261.6 L725.9,252.4 L723.8,256.8 L720.1,255.4 Z" fill="#fff" stroke="#222" stroke-width="0.9" stroke-linejoin="round" stroke-linecap="round"/>
<path d="M751.7,253.9 L740.7,257.8 L725.9,252.4" fill="none" stroke="#222" stroke-width="0.7" stroke-linejoin="round" stroke-linecap="round"/>
<path d="M740.7,257.8 L741.4,261.6" fill="none" stroke="#222" stroke-width="0.7" stroke-linejoin="round" stroke-linecap="round"/>
<path d="M717.6,244.3 L740.7,257.8" fill="none" stroke="#222" stroke-width="0.7" stroke-linejoin="round" stroke-linecap="round"/>
<path d="M726.6,250.2 L739.6,257.8" fill="none" stroke="#222" stroke-width="0.6" stroke-linejoin="round" stroke-linecap="round"/>
<path d="M747.4,266.4 L758.6,273.0 Q763.0,275.6 763.4,281.0 L764.4,297.0" fill="none" stroke="#222" stroke-width="4.4" stroke-linejoin="round" stroke-linecap="butt"/>
<path d="M747.4,266.4 L758.6,273.0 Q763.0,275.6 763.4,281.0 L764.4,297.0" fill="none" stroke="#fff" stroke-width="2.8000000000000003" stroke-linejoin="round" stroke-linecap="square"/>
<path d="M764.3,319.1 L766.2,301.8 L767.5,295.3 L774.0,287.6 Q775.6,286.6 776.5,290.2 L776.0,293.6 L781.0,296.6 L779.7,312.1 L777.8,315.9 Z" fill="#fff" stroke="#222" stroke-width="1.0" stroke-linejoin="round" stroke-linecap="round"/>
<ellipse cx="769.6" cy="298.6" rx="1.3" ry="2.2" transform="rotate(25 769.6 298.6)" fill="#fff" stroke="#222" stroke-width="0.8"/>
<path d="M781.0,296.6 L786.6,295.0 Q789.0,293.0 789.6,289.6 Q791.6,285.0 794.4,284.6 Q797.4,285.0 797.4,288.6 L797.8,291.5 L819.6,301.1 L827.4,296.6 L833.6,295.4 L838.9,297.9 L837.7,310.1 L827.4,314.0 L827.4,311.0 L817.1,312.1 L797.1,306.3 L779.7,312.1" fill="none" stroke="#222" stroke-width="1.0" stroke-linejoin="round" stroke-linecap="round"/>
<path d="M827.4,296.6 L829.4,300.6 L827.4,311.0" fill="none" stroke="#222" stroke-width="0.8" stroke-linejoin="round" stroke-linecap="round"/>
<path d="M829.4,300.6 L838.6,298.2" fill="none" stroke="#222" stroke-width="0.8" stroke-linejoin="round" stroke-linecap="round"/>
<ellipse cx="793.4" cy="289.2" rx="1.0" ry="1.5" transform="rotate(15 793.4 289.2)" fill="#fff" stroke="#222" stroke-width="0.8"/>
<ellipse cx="799.6" cy="296.0" rx="0.8" ry="1.2" transform="rotate(0 799.6 296.0)" fill="#fff" stroke="#222" stroke-width="0.8"/>
<ellipse cx="798.4" cy="303.0" rx="0.8" ry="1.2" transform="rotate(0 798.4 303.0)" fill="#fff" stroke="#222" stroke-width="0.8"/>
<line x1="799.4" y1="297.4" x2="798.6" y2="301.6" stroke="#222" stroke-width="0.7"/>
<circle cx="777.4" cy="298.6" r="1.6" fill="#111"/>
<circle cx="781.6" cy="304.6" r="1.4" fill="#111"/>
<path d="M772.4,307.0 L777.4,305.6" fill="none" stroke="#222" stroke-width="1.6" stroke-linejoin="round" stroke-linecap="round"/>
<circle cx="778.8" cy="312.6" r="0.9" fill="#111"/>
<path d="M817.6,304.6 L820.4,304.8 L818.4,309.6" fill="none" stroke="#222" stroke-width="1.6" stroke-linejoin="round" stroke-linecap="round"/>
<path d="M822.4,307.4 L826.0,306.6" fill="none" stroke="#222" stroke-width="1.2" stroke-linejoin="round" stroke-linecap="round"/>
<ellipse cx="833.2" cy="304.2" rx="0.6" ry="0.9" transform="rotate(0 833.2 304.2)" fill="#fff" stroke="#222" stroke-width="0.8"/>
<path d="M830.4,309.4 L834.6,308.4" fill="none" stroke="#222" stroke-width="0.7" stroke-linejoin="round" stroke-linecap="round"/>
<text x="647.6" y="232.3" font-size="11" text-anchor="middle">50</text>
<line x1="656.6" y1="227.0" x2="678.0" y2="222.8" stroke="#222" stroke-width="0.8"/>
<circle cx="680.4" cy="222.2" r="1.6" fill="#111"/>
<line x1="682.4" y1="223.2" x2="697.4" y2="231.2" stroke="#222" stroke-width="0.7" stroke-dasharray="4 2"/>
<text x="735.0" y="208.6" font-size="11" text-anchor="middle">49</text>
<line x1="732.4" y1="210.6" x2="728.6" y2="221.8" stroke="#222" stroke-width="0.8"/>
<circle cx="727.0" cy="224.3" r="1.6" fill="#111"/>
<path d="M725.4,223.4 L716.7,219.2 L716.7,242.6" fill="none" stroke="#222" stroke-width="0.7" stroke-linejoin="round" stroke-linecap="round" stroke-dasharray="4 2"/>
<text x="750.6" y="236.0" font-size="11" text-anchor="middle">5</text>
<line x1="749.7" y1="237.4" x2="745.2" y2="249.4" stroke="#222" stroke-width="0.8"/>
<text x="777.2" y="251.7" font-size="11" text-anchor="middle">49</text>
<line x1="775.5" y1="253.0" x2="772.0" y2="265.6" stroke="#222" stroke-width="0.8"/>
<circle cx="771.4" cy="267.7" r="1.6" fill="#111"/>
<path d="M773.6,269.4 L784.9,275.4 L785.5,285.7 L790.4,288.6" fill="none" stroke="#222" stroke-width="0.7" stroke-linejoin="round" stroke-linecap="round" stroke-dasharray="4 2"/>
<text x="697.0" y="297.4" font-size="11" text-anchor="middle">49</text>
<line x1="686.7" y1="271.3" x2="693.8" y2="287.4" stroke="#222" stroke-width="0.8"/>
<line x1="706.0" y1="295.1" x2="748.5" y2="293.8" stroke="#222" stroke-width="0.8"/>
<circle cx="684.7" cy="269.0" r="1.6" fill="#111"/>
<circle cx="751.7" cy="294.3" r="1.6" fill="#111"/>
<path d="M672.4,259.8 L673.2,262.0 L683.2,268.0" fill="none" stroke="#222" stroke-width="0.7" stroke-linejoin="round" stroke-linecap="round" stroke-dasharray="4 2"/>
<line x1="753.6" y1="295.4" x2="764.0" y2="300.4" stroke="#222" stroke-width="0.7"/>
<text x="861.9" y="302.6" font-size="11" text-anchor="middle">50</text>
<line x1="857.6" y1="303.7" x2="852.5" y2="317.2" stroke="#222" stroke-width="0.8"/>
<circle cx="851.2" cy="319.4" r="1.6" fill="#111"/>
<line x1="836.4" y1="311.4" x2="849.4" y2="318.4" stroke="#222" stroke-width="0.7" stroke-dasharray="4 2"/>
<text x="612.6" y="398.8" font-size="11" text-anchor="middle">7</text>
<line x1="613.6" y1="399.8" x2="618.6" y2="423.0" stroke="#222" stroke-width="0.8"/>
<circle cx="619.2" cy="426.8" r="3.9" fill="#bbb" stroke="#333" stroke-width="1.1"/>
<path d="M617.0,425.2 L619.2,428.0 L621.6,425.40000000000003 M619.2,428.0 L619.4000000000001,430.40000000000003" fill="none" stroke="#333" stroke-width="1.0"/>
<ellipse cx="619.2" cy="426.2" rx="1.6" ry="1.2" fill="#eee" stroke="#444" stroke-width="0.7"/>
<line x1="623.8" y1="424.7" x2="672.0" y2="411.8" stroke="#222" stroke-width="0.8" stroke-dasharray="9 3"/>
<ellipse cx="680.6" cy="410.0" rx="2.9" ry="3.0" fill="#ddd" stroke="#222" stroke-width="1.0"/>
<line x1="672.6" y1="411.6" x2="679.4" y2="410.2" stroke="#111" stroke-width="2.8"/>
<text x="736.6" y="420.5" font-size="11" text-anchor="middle">26</text>
<line x1="684.3" y1="411.8" x2="729.0" y2="416.6" stroke="#222" stroke-width="0.8"/>
<line x1="742.8" y1="421.4" x2="773.6" y2="466.0" stroke="#222" stroke-width="0.8"/>
<ellipse cx="776.8" cy="467.6" rx="2.9" ry="3.0" fill="#ddd" stroke="#222" stroke-width="1.0"/>
<line x1="768.8" y1="469.4" x2="775.6" y2="467.8" stroke="#111" stroke-width="2.8"/>
<text x="706.5" y="457.8" font-size="11" text-anchor="middle">7</text>
<line x1="708.5" y1="460.0" x2="713.0" y2="481.4" stroke="#222" stroke-width="0.8"/>
<circle cx="714.7" cy="484.6" r="3.9" fill="#bbb" stroke="#333" stroke-width="1.1"/>
<path d="M712.5,483.0 L714.7,485.8 L717.1,483.20000000000005 M714.7,485.8 L714.9000000000001,488.20000000000005" fill="none" stroke="#333" stroke-width="1.0"/>
<ellipse cx="714.7" cy="484.0" rx="1.6" ry="1.2" fill="#eee" stroke="#444" stroke-width="0.7"/>
<line x1="720.2" y1="482.5" x2="768.6" y2="470.2" stroke="#222" stroke-width="0.8" stroke-dasharray="9 3"/>
<text x="639.8" y="491.0" font-size="11" text-anchor="middle">25</text>
<line x1="636.1" y1="480.5" x2="630.0" y2="459.4" stroke="#222" stroke-width="0.8"/>
<line x1="649.5" y1="489.7" x2="713.0" y2="507.2" stroke="#222" stroke-width="0.8"/>
<g transform="translate(0 0)">
<path d="M639.6,439.8 L623.9,444.9 Q619.8,447.6 618.9,452.4 L618.9,456.6 Q619.6,459.6 622.6,458.8 L634.0,455.2 Q636.8,453.6 637.6,450.4 L639.8,439.4" fill="none" stroke="#444" stroke-width="2.5" stroke-linejoin="round" stroke-linecap="round"/>
<path d="M639.6,439.8 L623.9,444.9 Q619.8,447.6 618.9,452.4 L618.9,456.6 Q619.6,459.6 622.6,458.8 L634.0,455.2 Q636.8,453.6 637.6,450.4 L639.8,439.4" fill="none" stroke="#fff" stroke-width="1.0" stroke-linejoin="round" stroke-linecap="round"/>
<path d="M646.4,431.8 L646.8,438.2 Q646.4,441.0 643.6,441.4 L639.2,440.6" fill="none" stroke="#444" stroke-width="2.4" stroke-linejoin="round" stroke-linecap="round"/>
<path d="M646.4,431.8 L646.8,438.2 Q646.4,441.0 643.6,441.4 L639.2,440.6" fill="none" stroke="#fff" stroke-width="0.8999999999999999" stroke-linejoin="round" stroke-linecap="round"/>
<ellipse cx="645.1" cy="426.7" rx="3.1" ry="4.6" transform="rotate(25 645.1 426.7)" fill="none" stroke="#333" stroke-width="2.4"/>
<ellipse cx="645.1" cy="426.7" rx="3.1" ry="4.6" transform="rotate(25 645.1 426.7)" fill="none" stroke="#fff" stroke-width="0.9"/>
<path d="M642.6,429.6 Q644,432.4 646.6,431.0" fill="none" stroke="#111" stroke-width="1.6"/>
<path d="M652.0,414.6 Q655.4,412.8 655.4,417.0 L654.8,420.4" fill="none" stroke="#444" stroke-width="2.2" stroke-linejoin="round" stroke-linecap="round"/>
<path d="M652.0,414.6 Q655.4,412.8 655.4,417.0 L654.8,420.4" fill="none" stroke="#fff" stroke-width="0.8000000000000003" stroke-linejoin="round" stroke-linecap="round"/>
<circle cx="655.2" cy="421.6" r="1.1" fill="#111"/>
</g>
<g transform="translate(96.4 57.4)">
<path d="M639.6,439.8 L623.9,444.9 Q619.8,447.6 618.9,452.4 L618.9,456.6 Q619.6,459.6 622.6,458.8 L634.0,455.2 Q636.8,453.6 637.6,450.4 L639.8,439.4" fill="none" stroke="#444" stroke-width="2.5" stroke-linejoin="round" stroke-linecap="round"/>
<path d="M639.6,439.8 L623.9,444.9 Q619.8,447.6 618.9,452.4 L618.9,456.6 Q619.6,459.6 622.6,458.8 L634.0,455.2 Q636.8,453.6 637.6,450.4 L639.8,439.4" fill="none" stroke="#fff" stroke-width="1.0" stroke-linejoin="round" stroke-linecap="round"/>
<path d="M646.4,431.8 L646.8,438.2 Q646.4,441.0 643.6,441.4 L639.2,440.6" fill="none" stroke="#444" stroke-width="2.4" stroke-linejoin="round" stroke-linecap="round"/>
<path d="M646.4,431.8 L646.8,438.2 Q646.4,441.0 643.6,441.4 L639.2,440.6" fill="none" stroke="#fff" stroke-width="0.8999999999999999" stroke-linejoin="round" stroke-linecap="round"/>
<ellipse cx="645.1" cy="426.7" rx="3.1" ry="4.6" transform="rotate(25 645.1 426.7)" fill="none" stroke="#333" stroke-width="2.4"/>
<ellipse cx="645.1" cy="426.7" rx="3.1" ry="4.6" transform="rotate(25 645.1 426.7)" fill="none" stroke="#fff" stroke-width="0.9"/>
<path d="M642.6,429.6 Q644,432.4 646.6,431.0" fill="none" stroke="#111" stroke-width="1.6"/>
<path d="M652.0,414.6 Q655.4,412.8 655.4,417.0 L654.8,420.4" fill="none" stroke="#444" stroke-width="2.2" stroke-linejoin="round" stroke-linecap="round"/>
<path d="M652.0,414.6 Q655.4,412.8 655.4,417.0 L654.8,420.4" fill="none" stroke="#fff" stroke-width="0.8000000000000003" stroke-linejoin="round" stroke-linecap="round"/>
<circle cx="655.2" cy="421.6" r="1.1" fill="#111"/>
</g>
<line x1="75.3" y1="384.4" x2="68.6" y2="463.6" stroke="#222" stroke-width="0.7" stroke-dasharray="12 3"/>
<line x1="102.1" y1="400.2" x2="96.4" y2="463.6" stroke="#222" stroke-width="0.7" stroke-dasharray="12 3"/>
<path d="M75.3,382.8 L74.7,377.5 Q75.4,371.6 78.0,368.1 Q82.6,362.6 90.1,358.8 L135.5,328.0 L139.5,328.7 L178.3,350.7 L185.0,354.1 Q192.0,357.4 195.7,361.4 Q199.4,365.4 200.3,368.8 L199.0,371.5 L192.3,373.5 L174.3,378.8 L166.2,373.5 Q162.4,369.6 156.9,368.1 L123.5,379.5 Q116.6,382.0 112.8,385.5 Q109.4,388.6 108.1,390.8 L105.4,396.9 L102.1,397.5 Z" fill="#fff" stroke="#222" stroke-width="1.0" stroke-linejoin="round" stroke-linecap="round"/>
<path d="M155.6,367.1 L186.3,356.1" fill="none" stroke="#222" stroke-width="0.8" stroke-linejoin="round" stroke-linecap="round"/>
<path d="M78.6,368.6 Q84,364 90.6,360.4" fill="none" stroke="#222" stroke-width="0.6" stroke-linejoin="round" stroke-linecap="round"/>
<path d="M92.7,361.7 L136.8,329.6 L140.8,330.2 L179.6,352.1 L179.6,353.0 L121.5,373.7 L115.4,375.1 L110.1,373.2 L92.1,363.0 Z" fill="none" stroke="#222" stroke-width="0.9" stroke-linejoin="round" stroke-linecap="round"/>
<path d="M94.9,362.5 L137.5,331.5" fill="none" stroke="#222" stroke-width="0.9" stroke-linejoin="round" stroke-linecap="round"/>
<path d="M93.5,360.8 L136.6,328.8" fill="none" stroke="#222" stroke-width="1.3" stroke-linejoin="round" stroke-linecap="round"/>
<path d="M115.4,375.1 L179.6,352.9" fill="none" stroke="#222" stroke-width="1.6" stroke-linejoin="round" stroke-linecap="round"/>
<path d="M97.4,360.1 L118.4,372.9" fill="none" stroke="#222" stroke-width="0.8" stroke-linejoin="round" stroke-linecap="round"/>
<path d="M97.8,360.3 L121.1,372.6" fill="none" stroke="#222" stroke-width="0.8" stroke-linejoin="round" stroke-linecap="round"/>
<path d="M100.4,358.5 L124.8,371.4" fill="none" stroke="#222" stroke-width="0.8" stroke-linejoin="round" stroke-linecap="round"/>
<path d="M109.4,352.0 L137.8,366.9" fill="none" stroke="#222" stroke-width="0.8" stroke-linejoin="round" stroke-linecap="round"/>
<path d="M112.3,349.8 L142.1,365.4" fill="none" stroke="#222" stroke-width="0.8" stroke-linejoin="round" stroke-linecap="round"/>
<path d="M114.9,347.9 L145.8,364.1" fill="none" stroke="#222" stroke-width="0.8" stroke-linejoin="round" stroke-linecap="round"/>
<path d="M123.0,342.0 L157.5,360.0" fill="none" stroke="#222" stroke-width="0.8" stroke-linejoin="round" stroke-linecap="round"/>
<path d="M125.6,340.2 L161.2,358.7" fill="none" stroke="#222" stroke-width="0.8" stroke-linejoin="round" stroke-linecap="round"/>
<path d="M128.1,338.3 L165.0,357.5" fill="none" stroke="#222" stroke-width="0.8" stroke-linejoin="round" stroke-linecap="round"/>
<path d="M110.1,342.1 L111.7,344.3" fill="none" stroke="#222" stroke-width="2.0" stroke-linejoin="round" stroke-linecap="round"/>
<path d="M122.4,338.7 L123.2,341.1" fill="none" stroke="#222" stroke-width="1.6" stroke-linejoin="round" stroke-linecap="round"/>
<path d="M97.4,358.1 L98.1,360.1" fill="none" stroke="#222" stroke-width="1.6" stroke-linejoin="round" stroke-linecap="round"/>
<path d="M173.6,378.8 L173.7,380.4" fill="none" stroke="#222" stroke-width="0.9" stroke-linejoin="round" stroke-linecap="round"/>
<path d="M191.4,373.5 L191.6,375.1" fill="none" stroke="#222" stroke-width="0.9" stroke-linejoin="round" stroke-linecap="round"/>
<text x="78.3" y="323.5" font-size="11" text-anchor="middle">2</text>
<line x1="81.3" y1="324.8" x2="96.5" y2="353.5" stroke="#222" stroke-width="0.8"/>
<path d="M179.3,421.4 L188.8,415.1 L215.7,426.2 L203.8,435.7 Z" fill="#fff" stroke="#222" stroke-width="0.9" stroke-linejoin="round" stroke-linecap="round"/>
<path d="M179.3,421.4 L180.4,425.4 L184.8,432.5 L203.0,442.0 L205.4,441.6 L217.7,433.3 L217.3,427.0 L215.7,426.2 L203.8,435.7" fill="none" stroke="#222" stroke-width="0.9" stroke-linejoin="round" stroke-linecap="round"/>
<path d="M203.8,435.7 L204.6,439.7 L205.4,441.6" fill="none" stroke="#222" stroke-width="0.8" stroke-linejoin="round" stroke-linecap="round"/>
<path d="M180.4,425.4 L203.4,438.9" fill="none" stroke="#222" stroke-width="0.7" stroke-linejoin="round" stroke-linecap="round"/>
<path d="M199.9,432.5 L209.4,429.4 L215.7,426.2" fill="none" stroke="#222" stroke-width="0.7" stroke-linejoin="round" stroke-linecap="round"/>
<path d="M188.8,415.1 L191.9,419.9 L195.9,417.5" fill="none" stroke="#222" stroke-width="0.8" stroke-linejoin="round" stroke-linecap="round"/>
<path d="M189.2,410.2 L215.7,423.0" fill="none" stroke="#222" stroke-width="3.4" stroke-linejoin="round" stroke-linecap="round"/>
<path d="M215.7,423.0 L220.4,426.2 L223.2,432.5 L222.0,434.5 L218.9,432.5 L218.1,428.2" fill="none" stroke="#222" stroke-width="1.6" stroke-linejoin="round" stroke-linecap="round"/>
<path d="M210.1,422.2 L210.9,424.6" fill="none" stroke="#222" stroke-width="2.2" stroke-linejoin="round" stroke-linecap="round"/>
<path d="M205.4,425.8 L208.2,426.6" fill="none" stroke="#222" stroke-width="1.4" stroke-linejoin="round" stroke-linecap="round"/>
<path d="M189.6,411.1 L188.8,415.1" fill="none" stroke="#222" stroke-width="1.0" stroke-linejoin="round" stroke-linecap="round"/>
<text x="175.7" y="400.1" font-size="11" text-anchor="middle">54</text>
<line x1="179.7" y1="402.4" x2="184.4" y2="417.3" stroke="#222" stroke-width="0.8"/>
<ellipse cx="223.6" cy="409.6" rx="8.3" ry="4.3" transform="rotate(12 223.6 409.6)" fill="#fff" stroke="#222" stroke-width="0.8"/>
<ellipse cx="223.6" cy="409.4" rx="4.4" ry="2.3" transform="rotate(12 223.6 409.4)" fill="#fff" stroke="#222" stroke-width="1.6"/>
<path d="M64.4,495.2 L58.6,492.7 L52.8,490.1 L25.8,468.2 L32.9,454.1 L36.1,449.5 L41.2,445.0 L53.5,438.4 L126.8,409.7 L130.7,409.3" fill="none" stroke="#222" stroke-width="1.0" stroke-linejoin="round" stroke-linecap="round"/>
<path d="M56.0,437.6 L127.5,410.6" fill="none" stroke="#222" stroke-width="0.7" stroke-linejoin="round" stroke-linecap="round"/>
<path d="M33.5,455.1 L41.9,458.9 L58.6,469.2 L53.2,489.8" fill="none" stroke="#222" stroke-width="0.9" stroke-linejoin="round" stroke-linecap="round"/>
<path d="M42.6,445.6 Q40.4,449.6 44.0,454.0 Q48,458.6 64.6,460.4" fill="none" stroke="#222" stroke-width="0.7" stroke-linejoin="round" stroke-linecap="round"/>
<path d="M71.5,446.6 L123.0,424.5" fill="none" stroke="#222" stroke-width="0.9" stroke-linejoin="round" stroke-linecap="round"/>
<path d="M72.5,449.4 L97.6,438.6" fill="none" stroke="#222" stroke-width="0.7" stroke-linejoin="round" stroke-linecap="round"/>
<path d="M71.5,446.6 L72.1,448.9 L76.6,451.7 L82.0,451.0 L97.2,444.5" fill="none" stroke="#222" stroke-width="0.8" stroke-linejoin="round" stroke-linecap="round"/>
<path d="M73.0,446.3 L73.8,448.9" fill="none" stroke="#222" stroke-width="0.5" stroke-linejoin="round" stroke-linecap="round"/>
<path d="M75.1,445.4 L75.9,448.0" fill="none" stroke="#222" stroke-width="0.5" stroke-linejoin="round" stroke-linecap="round"/>
<path d="M77.1,444.6 L77.9,447.1" fill="none" stroke="#222" stroke-width="0.5" stroke-linejoin="round" stroke-linecap="round"/>
<path d="M79.2,443.7 L80.0,446.2" fill="none" stroke="#222" stroke-width="0.5" stroke-linejoin="round" stroke-linecap="round"/>
<path d="M81.3,442.8 L82.0,445.4" fill="none" stroke="#222" stroke-width="0.5" stroke-linejoin="round" stroke-linecap="round"/>
<path d="M83.3,441.9 L84.1,444.5" fill="none" stroke="#222" stroke-width="0.5" stroke-linejoin="round" stroke-linecap="round"/>
<path d="M85.4,441.0 L86.2,443.6" fill="none" stroke="#222" stroke-width="0.5" stroke-linejoin="round" stroke-linecap="round"/>
<path d="M87.4,440.1 L88.2,442.7" fill="none" stroke="#222" stroke-width="0.5" stroke-linejoin="round" stroke-linecap="round"/>
<path d="M89.5,439.2 L90.3,441.8" fill="none" stroke="#222" stroke-width="0.5" stroke-linejoin="round" stroke-linecap="round"/>
<path d="M91.6,438.3 L92.3,440.9" fill="none" stroke="#222" stroke-width="0.5" stroke-linejoin="round" stroke-linecap="round"/>
<path d="M93.6,437.5 L94.4,440.0" fill="none" stroke="#222" stroke-width="0.5" stroke-linejoin="round" stroke-linecap="round"/>
<path d="M95.7,436.6 L96.4,439.1" fill="none" stroke="#222" stroke-width="0.5" stroke-linejoin="round" stroke-linecap="round"/>
<path d="M94.0,444.7 L98.5,443.8 L101.3,445.7 L100.8,448.4 L97.0,449.9" fill="none" stroke="#222" stroke-width="0.8" stroke-linejoin="round" stroke-linecap="round"/>
<path d="M122.3,429.0 L76.6,454.1 L65.0,463.1 L60.9,469.5 L59.9,475.3 L61.2,482.4 L65.0,487.5 L89.5,499.7 L94.4,498.1 L96.2,490.1" fill="none" stroke="#222" stroke-width="1.3" stroke-linejoin="round" stroke-linecap="round"/>
<path d="M124.5,430.9 L81.8,456.0 L69.5,465.4 L66.1,472.1 L65.7,477.2 L66.6,483.9" fill="none" stroke="#222" stroke-width="0.8" stroke-linejoin="round" stroke-linecap="round"/>
<path d="M126.6,437.3 L89.5,456.9 L77.3,466.7 L74.6,472.1 L74.1,476.6 L76.9,482.4 L92.1,488.8" fill="none" stroke="#222" stroke-width="1.1" stroke-linejoin="round" stroke-linecap="round"/>
<path d="M129.1,438.9 L92.1,458.7 L80.2,469.5 L78.2,474.6 L78.2,477.9 L80.7,482.4 L93.6,487.8 L102.4,480.6 L150.0,462.0" fill="none" stroke="#222" stroke-width="0.8" stroke-linejoin="round" stroke-linecap="round"/>
<path d="M96.2,490.1 L104.9,483.7 L150.0,466.9" fill="none" stroke="#222" stroke-width="0.9" stroke-linejoin="round" stroke-linecap="round"/>
<path d="M97.2,503.0 L98.8,497.8 L102.4,490.7 L110.1,486.5 L150.0,472.3" fill="none" stroke="#222" stroke-width="1.0" stroke-linejoin="round" stroke-linecap="round"/>
<path d="M92.1,488.8 L93.6,487.8" fill="none" stroke="#222" stroke-width="1.6" stroke-linejoin="round" stroke-linecap="round"/>
<path d="M102.4,480.6 L110.3,477.5" fill="none" stroke="#222" stroke-width="2.0" stroke-linejoin="round" stroke-linecap="round"/>
<path d="M110.1,487.0 L129.4,480.8" fill="none" stroke="#222" stroke-width="1.8" stroke-linejoin="round" stroke-linecap="round"/>
<path d="M65.0,482.4 L66.6,484.9 L65.0,487.5" fill="none" stroke="#222" stroke-width="0.8" stroke-linejoin="round" stroke-linecap="round"/>
<path d="M68.9,466.9 L67.9,483.7" fill="none" stroke="#222" stroke-width="0.6" stroke-linejoin="round" stroke-linecap="round"/>
<path d="M71.5,469.5 L71.0,488.8" fill="none" stroke="#222" stroke-width="0.6" stroke-linejoin="round" stroke-linecap="round"/>
<path d="M100.0,417.4 L127.0,409.7 L130.9,409.3" fill="none" stroke="#222" stroke-width="1.0" stroke-linejoin="round" stroke-linecap="round"/>
<path d="M129.9,409.8 L144.4,422.1" fill="none" stroke="#222" stroke-width="1.0" stroke-linejoin="round" stroke-linecap="round"/>
<path d="M132.4,409.0 L149.2,420.8" fill="none" stroke="#222" stroke-width="0.8" stroke-linejoin="round" stroke-linecap="round"/>
<path d="M130.6,410.6 L133.2,409.3" fill="none" stroke="#222" stroke-width="0.6" stroke-linejoin="round" stroke-linecap="round"/>
<path d="M132.2,411.9 L134.9,410.6" fill="none" stroke="#222" stroke-width="0.6" stroke-linejoin="round" stroke-linecap="round"/>
<path d="M133.8,413.3 L136.6,411.8" fill="none" stroke="#222" stroke-width="0.6" stroke-linejoin="round" stroke-linecap="round"/>
<path d="M135.5,414.6 L138.2,413.1" fill="none" stroke="#222" stroke-width="0.6" stroke-linejoin="round" stroke-linecap="round"/>
<path d="M137.1,416.0 L139.9,414.4" fill="none" stroke="#222" stroke-width="0.6" stroke-linejoin="round" stroke-linecap="round"/>
<path d="M138.7,417.3 L141.6,415.7" fill="none" stroke="#222" stroke-width="0.6" stroke-linejoin="round" stroke-linecap="round"/>
<path d="M140.3,418.7 L143.2,417.0" fill="none" stroke="#222" stroke-width="0.6" stroke-linejoin="round" stroke-linecap="round"/>
<path d="M141.9,420.0 L144.9,418.3" fill="none" stroke="#222" stroke-width="0.6" stroke-linejoin="round" stroke-linecap="round"/>
<path d="M143.5,421.4 L146.6,419.6" fill="none" stroke="#222" stroke-width="0.6" stroke-linejoin="round" stroke-linecap="round"/>
<path d="M132.2,423.8 L144.4,421.9 L151.5,423.4 L162.4,438.0" fill="none" stroke="#222" stroke-width="1.6" stroke-linejoin="round" stroke-linecap="round"/>
<path d="M132.2,423.8 L142.5,429.9 L151.5,424.5" fill="none" stroke="#222" stroke-width="1.3" stroke-linejoin="round" stroke-linecap="round"/>
<path d="M142.5,429.9 L160.5,438.6" fill="none" stroke="#222" stroke-width="1.0" stroke-linejoin="round" stroke-linecap="round"/>
<path d="M123.2,429.0 L132.2,423.8" fill="none" stroke="#222" stroke-width="0.9" stroke-linejoin="round" stroke-linecap="round"/>
<path d="M122.5,430.2 L159.2,451.5 L183.7,464.4 L192.0,470.5 L188.8,474.4 L163.1,482.4 L158.9,481.5 L147.6,471.8 L142.5,469.5" fill="none" stroke="#222" stroke-width="1.2" stroke-linejoin="round" stroke-linecap="round"/>
<path d="M125.7,427.7 L161.8,448.3 L190.1,464.1" fill="none" stroke="#222" stroke-width="0.8" stroke-linejoin="round" stroke-linecap="round"/>
<path d="M129.9,437.1 L164.4,456.1 L149.9,461.3" fill="none" stroke="#222" stroke-width="0.8" stroke-linejoin="round" stroke-linecap="round"/>
<path d="M130.9,438.9 L160.5,455.3" fill="none" stroke="#222" stroke-width="0.7" stroke-linejoin="round" stroke-linecap="round"/>
<path d="M164.4,456.6 L182.4,464.4 L185.2,471.8 L162.0,479.8 L149.4,471.6" fill="none" stroke="#222" stroke-width="0.7" stroke-linejoin="round" stroke-linecap="round"/>
<path d="M142.5,469.5 L129.6,473.7" fill="none" stroke="#222" stroke-width="1.6" stroke-linejoin="round" stroke-linecap="round"/>
<path d="M162.4,438.0 L190.1,455.3 L203.0,460.0 L230.0,469.8" fill="none" stroke="#222" stroke-width="1.0" stroke-linejoin="round" stroke-linecap="round"/>
<path d="M166.9,442.5 L190.1,456.6 L203.0,461.0" fill="none" stroke="#222" stroke-width="0.7" stroke-linejoin="round" stroke-linecap="round"/>
<path d="M132.8,480.4 L138.6,487.5 L146.3,491.6 L154.1,494.0 L164.4,492.9 L219.7,479.2" fill="none" stroke="#222" stroke-width="0.9" stroke-linejoin="round" stroke-linecap="round"/>
<path d="M112.9,488.8 L123.2,497.8 L132.2,503.0" fill="none" stroke="#222" stroke-width="0.7" stroke-linejoin="round" stroke-linecap="round"/>
<path d="M100.0,494.0 L119.3,503.0" fill="none" stroke="#222" stroke-width="0.7" stroke-linejoin="round" stroke-linecap="round"/>
<path d="M188.4,454.7 L216.9,462.7 L252.6,479.7 L266.8,485.9" fill="none" stroke="#222" stroke-width="1.0" stroke-linejoin="round" stroke-linecap="round"/>
<path d="M224.1,467.2 L252.6,480.9 L257.9,483.8" fill="none" stroke="#222" stroke-width="2.0" stroke-linejoin="round" stroke-linecap="round"/>
<path d="M266.8,485.9 L271.3,492.1 L273.1,501.9 L271.3,527.8" fill="none" stroke="#222" stroke-width="1.6" stroke-linejoin="round" stroke-linecap="round"/>
<path d="M264.7,487.0 L269.0,494.8 L269.7,501.9 L268.6,526.9" fill="none" stroke="#222" stroke-width="0.7" stroke-linejoin="round" stroke-linecap="round"/>
<path d="M271.3,527.8 L208.0,533.1 L168.8,534.4 L145.6,534.0 L127.8,527.8 L110.0,519.8" fill="none" stroke="#222" stroke-width="1.0" stroke-linejoin="round" stroke-linecap="round"/>
<path d="M110.0,496.6 L127.8,505.5 L145.6,510.8 L168.8,509.1 L265.1,486.8" fill="none" stroke="#222" stroke-width="0.8" stroke-linejoin="round" stroke-linecap="round"/>
<path d="M110.0,505.5 L131.4,514.4 L154.6,518.0 L181.3,514.1 L268.6,498.4" fill="none" stroke="#222" stroke-width="0.8" stroke-linejoin="round" stroke-linecap="round"/>
<path d="M175.9,519.8 L266.8,501.9" fill="none" stroke="#222" stroke-width="0.7" stroke-linejoin="round" stroke-linecap="round"/>
<path d="M178.6,526.0 L269.5,507.3" fill="none" stroke="#222" stroke-width="0.7" stroke-linejoin="round" stroke-linecap="round"/>
<path d="M64.5,496.9 L86.2,507.8 L90.2,513.8 L95.1,514.4 L120.9,526.6 L148.6,533.6 L168.4,534.2" fill="none" stroke="#222" stroke-width="1.0" stroke-linejoin="round" stroke-linecap="round"/>
<path d="M97.1,500.9 L103.1,494.0 L113.0,488.0" fill="none" stroke="#222" stroke-width="0.9" stroke-linejoin="round" stroke-linecap="round"/>
<text x="45.6" y="407.5" font-size="11" text-anchor="middle">8</text>
<line x1="47.6" y1="409.8" x2="56.5" y2="435.5" stroke="#222" stroke-width="0.8"/>
<text x="39.7" y="531.6" font-size="11" text-anchor="middle">69</text>
<line x1="50.6" y1="526.6" x2="61.6" y2="518.6" stroke="#222" stroke-width="0.8"/>
<line x1="50.6" y1="526.6" x2="88.0" y2="531.0" stroke="#222" stroke-width="0.8"/>
<line x1="64.0" y1="497.0" x2="63.2" y2="512.0" stroke="#222" stroke-width="0.7"/>
<line x1="90.2" y1="514.0" x2="89.8" y2="527.0" stroke="#222" stroke-width="0.7"/>
<line x1="63.0" y1="512.6" x2="63.0" y2="517.0" stroke="#222" stroke-width="1.8"/>
<line x1="89.7" y1="527.4" x2="89.7" y2="531.6" stroke="#222" stroke-width="1.8"/>
<path d="M105.8,588.9 L105.8,583.1 L108.4,578.6 L116.7,575.4 L204.2,545.8 L203.0,559.3 L205.5,564.5" fill="none" stroke="#222" stroke-width="1.1" stroke-linejoin="round" stroke-linecap="round"/>
<path d="M109.0,579.9 L117.4,576.8 L125.7,573.7" fill="none" stroke="#222" stroke-width="1.6" stroke-linejoin="round" stroke-linecap="round"/>
<path d="M193.3,549.7 L201.7,560.6 L204.2,545.8" fill="none" stroke="#222" stroke-width="0.8" stroke-linejoin="round" stroke-linecap="round"/>
<path d="M200.4,553.5 L203.0,552.2" fill="none" stroke="#222" stroke-width="2.0" stroke-linejoin="round" stroke-linecap="round"/>
<path d="M190.1,549.0 L204.2,545.8" fill="none" stroke="#222" stroke-width="1.5" stroke-linejoin="round" stroke-linecap="round"/>
<path d="M112.9,581.2 L126.4,574.5 L127.7,577.3 L123.2,589.5" fill="none" stroke="#222" stroke-width="0.8" stroke-linejoin="round" stroke-linecap="round"/>
<path d="M107.7,582.5 L112.9,583.1 L114.2,587.6" fill="none" stroke="#222" stroke-width="1.2" stroke-linejoin="round" stroke-linecap="round"/>
<path d="M127.7,575.0 L147.0,567.7 L148.9,570.2 L141.2,591.5 L132.2,594.1 L130.9,596.0" fill="none" stroke="#222" stroke-width="0.8" stroke-linejoin="round" stroke-linecap="round"/>
<path d="M132.2,594.1 L129.9,592.5 L140.9,589.5" fill="none" stroke="#222" stroke-width="0.6" stroke-linejoin="round" stroke-linecap="round"/>
<path d="M147.0,564.5 L156.6,563.4" fill="none" stroke="#222" stroke-width="1.6" stroke-linejoin="round" stroke-linecap="round"/>
<path d="M148.9,570.2 L150.8,565.1" fill="none" stroke="#222" stroke-width="0.8" stroke-linejoin="round" stroke-linecap="round"/>
<path d="M156.6,565.1 L182.4,554.8 L184.9,556.7 L175.9,578.6 L151.5,589.2 L149.5,588.3 L156.6,565.1" fill="none" stroke="#222" stroke-width="0.8" stroke-linejoin="round" stroke-linecap="round"/>
<path d="M151.5,587.0 L175.3,577.3 L182.4,559.3" fill="none" stroke="#222" stroke-width="0.6" stroke-linejoin="round" stroke-linecap="round"/>
<path d="M159.2,563.8 L182.4,556.1" fill="none" stroke="#222" stroke-width="0.6" stroke-linejoin="round" stroke-linecap="round"/>
<path d="M192.7,565.5 L201.7,563.8 L205.5,565.2" fill="none" stroke="#222" stroke-width="0.9" stroke-linejoin="round" stroke-linecap="round"/>
<path d="M192.7,565.7 L184.9,623.7" fill="none" stroke="#222" stroke-width="1.0" stroke-linejoin="round" stroke-linecap="round"/>
<path d="M195.9,566.5 L188.8,626.0" fill="none" stroke="#222" stroke-width="0.7" stroke-linejoin="round" stroke-linecap="round"/>
<path d="M201.7,564.5 L193.3,630.1" fill="none" stroke="#222" stroke-width="0.7" stroke-linejoin="round" stroke-linecap="round"/>
<path d="M204.9,565.7 L196.5,630.7" fill="none" stroke="#222" stroke-width="0.9" stroke-linejoin="round" stroke-linecap="round"/>
<path d="M106.4,589.5 L109.0,644.0" fill="none" stroke="#222" stroke-width="0.9" stroke-linejoin="round" stroke-linecap="round"/>
<path d="M109.5,641.6 L109.5,681.2" fill="none" stroke="#222" stroke-width="0.9" stroke-linejoin="round" stroke-linecap="round"/>
<path d="M112.9,587.6 L205.5,639.1" fill="none" stroke="#222" stroke-width="0.9" stroke-linejoin="round" stroke-linecap="round"/>
<path d="M107.7,586.6 L112.9,587.9" fill="none" stroke="#222" stroke-width="0.9" stroke-linejoin="round" stroke-linecap="round"/>
<path d="M109.0,590.2 L203.0,643.0" fill="none" stroke="#222" stroke-width="0.8" stroke-linejoin="round" stroke-linecap="round"/>
<path d="M107.1,590.8 L200.4,644.0" fill="none" stroke="#222" stroke-width="1.0" stroke-linejoin="round" stroke-linecap="round"/>
<path d="M106.2,589.5 L107.7,592.8" fill="none" stroke="#222" stroke-width="0.9" stroke-linejoin="round" stroke-linecap="round"/>
<path d="M116.7,588.9 L148.9,605.9 L149.5,607.6" fill="none" stroke="#222" stroke-width="1.6" stroke-linejoin="round" stroke-linecap="round"/>
<path d="M151.5,608.9 L170.1,618.0" fill="none" stroke="#222" stroke-width="1.6" stroke-linejoin="round" stroke-linecap="round"/>
<path d="M173.4,620.4 L206.8,638.8" fill="none" stroke="#222" stroke-width="1.4" stroke-linejoin="round" stroke-linecap="round"/>
<path d="M170.1,618.0 L170.8,618.8" fill="none" stroke="#222" stroke-width="2.4" stroke-linejoin="round" stroke-linecap="round"/>
<path d="M148.3,606.3 L149.2,607.2" fill="none" stroke="#222" stroke-width="2.2" stroke-linejoin="round" stroke-linecap="round"/>
<path d="M198.0,634.0 L205.9,638.0 L213.8,642.9 L221.7,645.1 L233.6,644.3 L295.0,636.4" fill="none" stroke="#222" stroke-width="0.9" stroke-linejoin="round" stroke-linecap="round"/>
<path d="M190.0,635.0 L205.9,643.9 L213.8,648.3 L223.7,650.2 L237.6,648.7 L295.0,640.0" fill="none" stroke="#222" stroke-width="1.0" stroke-linejoin="round" stroke-linecap="round"/>
<path d="M188.1,637.0 L204.9,646.3 L213.8,650.2 L223.7,652.2 L237.6,650.6 L295.0,641.9" fill="none" stroke="#222" stroke-width="0.7" stroke-linejoin="round" stroke-linecap="round"/>
<path d="M211.8,640.9 L221.7,641.9 L222.7,643.9" fill="none" stroke="#222" stroke-width="0.8" stroke-linejoin="round" stroke-linecap="round"/>
<path d="M243.5,641.9 L245.5,640.0 L274.2,636.4 L276.2,638.0" fill="none" stroke="#222" stroke-width="0.9" stroke-linejoin="round" stroke-linecap="round"/>
<path d="M246.5,641.5 L273.2,638.0" fill="none" stroke="#222" stroke-width="0.6" stroke-linejoin="round" stroke-linecap="round"/>
<path d="M295.0,640.0 L337.6,633.4 L349.4,627.1 L344.2,644.3" fill="none" stroke="#222" stroke-width="1.1" stroke-linejoin="round" stroke-linecap="round"/>
<path d="M295.0,636.4 L337.0,630.6" fill="none" stroke="#222" stroke-width="0.8" stroke-linejoin="round" stroke-linecap="round"/>
<path d="M295.0,642.0 L337.0,635.4" fill="none" stroke="#222" stroke-width="0.7" stroke-linejoin="round" stroke-linecap="round"/>
<path d="M337.6,632.4 L344.1,644.3" fill="none" stroke="#222" stroke-width="0.8" stroke-linejoin="round" stroke-linecap="round"/>
<path d="M341.5,635.0 L345.5,636.4" fill="none" stroke="#222" stroke-width="1.6" stroke-linejoin="round" stroke-linecap="round"/>
<path d="M305.9,633.7 L308.6,631.6 L319.1,630.0 L321.7,631.6" fill="none" stroke="#222" stroke-width="0.8" stroke-linejoin="round" stroke-linecap="round"/>
<path d="M279.6,641.1 L280.9,639.0 L291.4,637.4 L293.3,639.0" fill="none" stroke="#222" stroke-width="0.8" stroke-linejoin="round" stroke-linecap="round"/>
<path d="M344.1,644.3 L320.4,726.0" fill="none" stroke="#222" stroke-width="1.0" stroke-linejoin="round" stroke-linecap="round"/>
<path d="M216.3,656.1 L207.0,730.0" fill="none" stroke="#222" stroke-width="0.8" stroke-linejoin="round" stroke-linecap="round"/>
<path d="M109.5,681.2 L121.4,689.1 L187.3,726.0 L205.7,733.9 L218.9,736.0 L320.4,724.7" fill="none" stroke="#222" stroke-width="1.1" stroke-linejoin="round" stroke-linecap="round"/>
<path d="M109.5,681.2 L113.5,691.7 L118.7,699.6" fill="none" stroke="#222" stroke-width="0.8" stroke-linejoin="round" stroke-linecap="round"/>
<path d="M320.4,726.0 L321.2,730.0 L300.6,734.4 L296.7,731.8 L291.4,731.8 L208.4,747.1 L199.1,747.6 L193.9,741.8 L189.9,733.9" fill="none" stroke="#222" stroke-width="1.0" stroke-linejoin="round" stroke-linecap="round"/>
<path d="M291.4,731.8 L218.9,743.1 L205.7,743.9" fill="none" stroke="#222" stroke-width="0.7" stroke-linejoin="round" stroke-linecap="round"/>
<path d="M118.7,701.0 L120.0,694.4 L124.0,692.3 L187.3,727.3 L193.9,736.5 L197.8,745.8" fill="none" stroke="#222" stroke-width="1.0" stroke-linejoin="round" stroke-linecap="round"/>
<path d="M121.4,702.3 L124.0,697.0 L128.0,696.5 L184.6,728.6 L189.9,739.2" fill="none" stroke="#222" stroke-width="1.4" stroke-linejoin="round" stroke-linecap="round"/>
<path d="M125.3,706.2 L128.0,702.8 L134.5,703.9 L182.0,731.8 L186.0,738.1" fill="none" stroke="#222" stroke-width="0.9" stroke-linejoin="round" stroke-linecap="round"/>
<path d="M138.5,710.2 L139.8,715.5 L147.7,719.4 L153.0,718.1 L151.7,713.3" fill="none" stroke="#222" stroke-width="1.0" stroke-linejoin="round" stroke-linecap="round"/>
<path d="M139.8,715.5 L146.4,722.0 L154.3,721.3 L153.0,718.1" fill="none" stroke="#222" stroke-width="0.8" stroke-linejoin="round" stroke-linecap="round"/>
<path d="M163.5,724.7 L164.9,729.2 L174.1,733.9 L179.4,732.6 L177.3,727.6" fill="none" stroke="#222" stroke-width="1.0" stroke-linejoin="round" stroke-linecap="round"/>
<path d="M164.9,729.2 L172.8,737.1 L182.0,736.5 L184.6,733.9" fill="none" stroke="#222" stroke-width="0.8" stroke-linejoin="round" stroke-linecap="round"/>
<text x="253.4" y="598.4" font-size="11" text-anchor="middle">21</text>
<line x1="256.4" y1="599.6" x2="264.9" y2="636.6" stroke="#222" stroke-width="0.8"/>
<text x="65.6" y="774.8" font-size="9.8" fill="#666" style="fill:#666">Bagger_TexCRD-Gen2_6</text>
</svg>
</body></html>
